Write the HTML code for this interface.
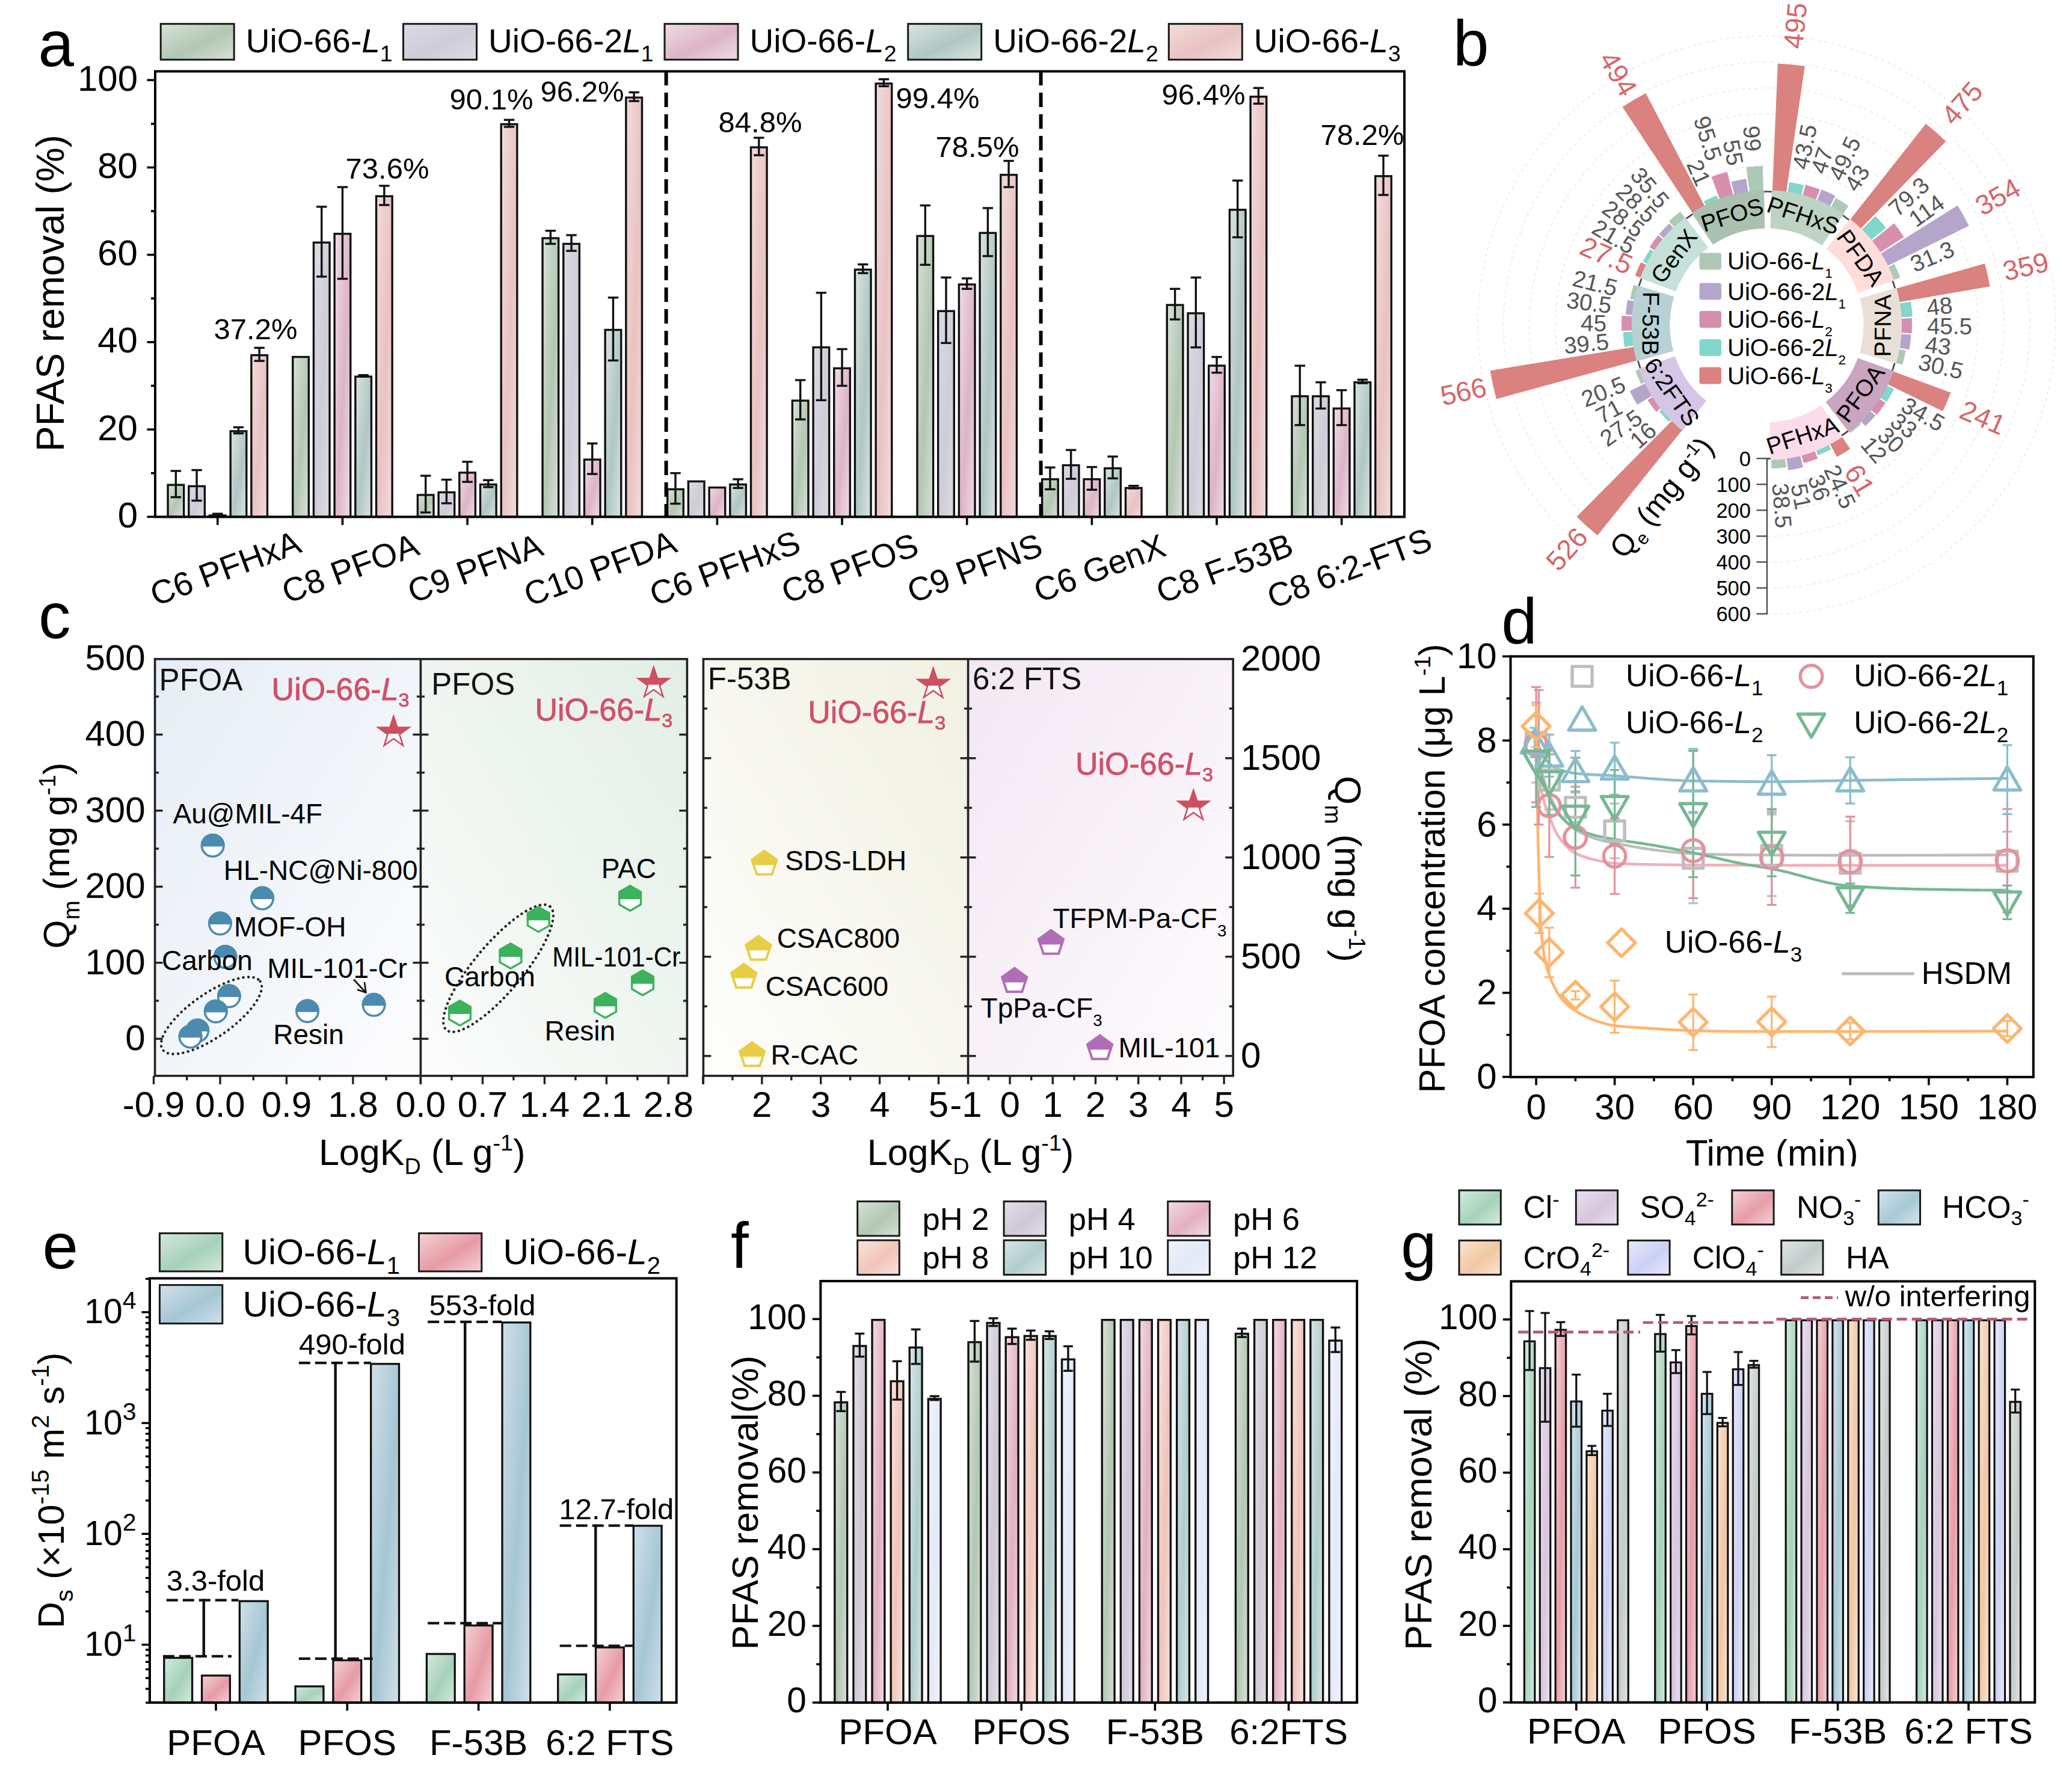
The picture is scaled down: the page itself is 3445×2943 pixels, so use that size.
<!DOCTYPE html>
<html lang="en"><head><meta charset="utf-8"><title>Figure</title>
<style>html,body{margin:0;padding:0;background:#fff}svg{display:block}text{white-space:pre}</style></head>
<body>
<svg width="3445" height="2943" viewBox="0 0 3445 2943" font-family='"Liberation Sans", sans-serif'>
<defs>
<linearGradient id="aL1" x1="0" y1="0" x2="1" y2="1"><stop offset="0.02" stop-color="#D6E1D6"/><stop offset="0.55" stop-color="#B2C7B2"/><stop offset="0.98" stop-color="#D6E1D6"/></linearGradient>
<linearGradient id="a2L1" x1="0" y1="0" x2="1" y2="1"><stop offset="0.02" stop-color="#DCDAE2"/><stop offset="0.55" stop-color="#CECCD7"/><stop offset="0.98" stop-color="#DCDAE2"/></linearGradient>
<linearGradient id="aL2" x1="0" y1="0" x2="1" y2="1"><stop offset="0.02" stop-color="#EEDBE4"/><stop offset="0.55" stop-color="#DDB4C7"/><stop offset="0.98" stop-color="#EEDBE4"/></linearGradient>
<linearGradient id="a2L2" x1="0" y1="0" x2="1" y2="1"><stop offset="0.02" stop-color="#D8E3E0"/><stop offset="0.55" stop-color="#AFC7C4"/><stop offset="0.98" stop-color="#D8E3E0"/></linearGradient>
<linearGradient id="aL3" x1="0" y1="0" x2="1" y2="1"><stop offset="0.02" stop-color="#F1DCDA"/><stop offset="0.55" stop-color="#E9C2C1"/><stop offset="0.98" stop-color="#F1DCDA"/></linearGradient>
<linearGradient id="cbg1" x1="0" y1="0" x2="1" y2="1"><stop offset="0" stop-color="#E5EDF5"/><stop offset="1" stop-color="#FDFDFE"/></linearGradient>
<linearGradient id="cbg2" x1="1" y1="0" x2="0" y2="1"><stop offset="0" stop-color="#E2EEE5"/><stop offset="1" stop-color="#FCFDFC"/></linearGradient>
<linearGradient id="cbg3" x1="1" y1="0" x2="0" y2="1"><stop offset="0" stop-color="#F1F0E2"/><stop offset="1" stop-color="#FEFEFC"/></linearGradient>
<linearGradient id="cbg4" x1="0" y1="0" x2="1" y2="1"><stop offset="0" stop-color="#F2E7F2"/><stop offset="1" stop-color="#FEFCFE"/></linearGradient>
<clipPath id="cm1"><rect x="328.7" y="1380.9" width="50" height="26.5"/></clipPath>
<clipPath id="cm2"><rect x="411.1" y="1468.6" width="50" height="26.5"/></clipPath>
<clipPath id="cm3"><rect x="340.9" y="1510.6" width="50" height="26.5"/></clipPath>
<clipPath id="cm4"><rect x="349.6" y="1566" width="50" height="26.5"/></clipPath>
<clipPath id="cm5"><rect x="355.9" y="1631.3" width="50" height="26.5"/></clipPath>
<clipPath id="cm6"><rect x="333.8" y="1656.7" width="50" height="26.5"/></clipPath>
<clipPath id="cm7"><rect x="303.3" y="1688.5" width="50" height="26.5"/></clipPath>
<clipPath id="cm8"><rect x="291.6" y="1698.7" width="50" height="26.5"/></clipPath>
<clipPath id="cm9"><rect x="486.1" y="1656.2" width="50" height="26.5"/></clipPath>
<clipPath id="cm10"><rect x="596.6" y="1645.8" width="50" height="26.5"/></clipPath>
<clipPath id="cm11"><rect x="724.5" y="1644.5" width="80" height="41.5"/></clipPath>
<clipPath id="cm12"><rect x="809" y="1549.6" width="80" height="41.5"/></clipPath>
<clipPath id="cm13"><rect x="855.3" y="1488.8" width="80" height="41.5"/></clipPath>
<clipPath id="cm14"><rect x="1007.6" y="1453.6" width="80" height="41.5"/></clipPath>
<clipPath id="cm15"><rect x="1028.5" y="1594.2" width="80" height="41.5"/></clipPath>
<clipPath id="cm16"><rect x="966.5" y="1631.8" width="80" height="41.5"/></clipPath>
<clipPath id="cm17"><rect x="1230.8" y="1396.4" width="80" height="42"/></clipPath>
<clipPath id="cm18"><rect x="1221" y="1538.2" width="80" height="42"/></clipPath>
<clipPath id="cm19"><rect x="1196.7" y="1584.6" width="80" height="42"/></clipPath>
<clipPath id="cm20"><rect x="1210.6" y="1714.9" width="80" height="42"/></clipPath>
<clipPath id="cm21"><rect x="1707.5" y="1528.4" width="80" height="42"/></clipPath>
<clipPath id="cm22"><rect x="1646.7" y="1591.5" width="80" height="42"/></clipPath>
<clipPath id="cm23"><rect x="1788.6" y="1703.3" width="80" height="42"/></clipPath>
<clipPath id="cm24"><rect x="614.4" y="1178" width="80" height="42"/></clipPath>
<clipPath id="cm25"><rect x="1046.8" y="1096.5" width="80" height="42"/></clipPath>
<clipPath id="cm26"><rect x="1511.7" y="1098.1" width="80" height="42"/></clipPath>
<clipPath id="cm27"><rect x="1944.3" y="1300.8" width="80" height="42"/></clipPath>
<linearGradient id="eL1" x1="0" y1="0" x2="1" y2="1"><stop offset="0.02" stop-color="#D2E8DB"/><stop offset="0.55" stop-color="#A6D1B9"/><stop offset="0.98" stop-color="#D2E8DB"/></linearGradient>
<linearGradient id="eL2" x1="0" y1="0" x2="1" y2="1"><stop offset="0.02" stop-color="#F4CFD3"/><stop offset="0.55" stop-color="#E79BA4"/><stop offset="0.98" stop-color="#F4CFD3"/></linearGradient>
<linearGradient id="eL3" x1="0" y1="0" x2="1" y2="1"><stop offset="0.02" stop-color="#CFDFE8"/><stop offset="0.55" stop-color="#A5C6D4"/><stop offset="0.98" stop-color="#CFDFE8"/></linearGradient>
<linearGradient id="f2" x1="0" y1="0" x2="1" y2="1"><stop offset="0.02" stop-color="#D6E1D6"/><stop offset="0.55" stop-color="#B2C7B2"/><stop offset="0.98" stop-color="#D6E1D6"/></linearGradient>
<linearGradient id="f4" x1="0" y1="0" x2="1" y2="1"><stop offset="0.02" stop-color="#E2DEE6"/><stop offset="0.55" stop-color="#CFC8D6"/><stop offset="0.98" stop-color="#E2DEE6"/></linearGradient>
<linearGradient id="f6" x1="0" y1="0" x2="1" y2="1"><stop offset="0.02" stop-color="#F1DAE2"/><stop offset="0.55" stop-color="#E3AFC2"/><stop offset="0.98" stop-color="#F1DAE2"/></linearGradient>
<linearGradient id="f8" x1="0" y1="0" x2="1" y2="1"><stop offset="0.02" stop-color="#F8E2DC"/><stop offset="0.55" stop-color="#F0C4B9"/><stop offset="0.98" stop-color="#F8E2DC"/></linearGradient>
<linearGradient id="f10" x1="0" y1="0" x2="1" y2="1"><stop offset="0.02" stop-color="#D8E5E5"/><stop offset="0.55" stop-color="#B0CDCD"/><stop offset="0.98" stop-color="#D8E5E5"/></linearGradient>
<linearGradient id="f12" x1="0" y1="0" x2="1" y2="1"><stop offset="0.02" stop-color="#EEF2FB"/><stop offset="0.55" stop-color="#E2E9F8"/><stop offset="0.98" stop-color="#EEF2FB"/></linearGradient>
<linearGradient id="gCl" x1="0" y1="0" x2="1" y2="1"><stop offset="0.02" stop-color="#D2EADD"/><stop offset="0.55" stop-color="#A6D3BA"/><stop offset="0.98" stop-color="#D2EADD"/></linearGradient>
<linearGradient id="gSO" x1="0" y1="0" x2="1" y2="1"><stop offset="0.02" stop-color="#EADFEE"/><stop offset="0.55" stop-color="#D7C6DE"/><stop offset="0.98" stop-color="#EADFEE"/></linearGradient>
<linearGradient id="gNO" x1="0" y1="0" x2="1" y2="1"><stop offset="0.02" stop-color="#F5D0D5"/><stop offset="0.55" stop-color="#E79DA8"/><stop offset="0.98" stop-color="#F5D0D5"/></linearGradient>
<linearGradient id="gHC" x1="0" y1="0" x2="1" y2="1"><stop offset="0.02" stop-color="#D3E4EB"/><stop offset="0.55" stop-color="#A6C9D6"/><stop offset="0.98" stop-color="#D3E4EB"/></linearGradient>
<linearGradient id="gCr" x1="0" y1="0" x2="1" y2="1"><stop offset="0.02" stop-color="#FAE4D1"/><stop offset="0.55" stop-color="#F1C7A2"/><stop offset="0.98" stop-color="#FAE4D1"/></linearGradient>
<linearGradient id="gClO" x1="0" y1="0" x2="1" y2="1"><stop offset="0.02" stop-color="#E6E9FB"/><stop offset="0.55" stop-color="#CBD1F4"/><stop offset="0.98" stop-color="#E6E9FB"/></linearGradient>
<linearGradient id="gHA" x1="0" y1="0" x2="1" y2="1"><stop offset="0.02" stop-color="#DFE4E3"/><stop offset="0.55" stop-color="#C3CBCA"/><stop offset="0.98" stop-color="#DFE4E3"/></linearGradient>
</defs>
<text x="63.5" y="109.5" font-size="107" text-anchor="start" fill="#000" >a</text>
<rect x="267.2" y="39.7" width="122" height="59.5" fill="url(#aL1)" stroke="#1a1a1a" stroke-width="3" />
<text x="408.7" y="87.3" font-size="55" text-anchor="start" fill="#000" >UiO-66-<tspan font-style="italic">L</tspan><tspan font-size="37.4" baseline-shift="-14.85">1</tspan></text>
<rect x="670.5" y="39.7" width="122" height="59.5" fill="url(#a2L1)" stroke="#1a1a1a" stroke-width="3" />
<text x="812" y="87.3" font-size="55" text-anchor="start" fill="#000" >UiO-66-2<tspan font-style="italic">L</tspan><tspan font-size="37.4" baseline-shift="-14.85">1</tspan></text>
<rect x="1105" y="39.7" width="122" height="59.5" fill="url(#aL2)" stroke="#1a1a1a" stroke-width="3" />
<text x="1246.5" y="87.3" font-size="55" text-anchor="start" fill="#000" >UiO-66-<tspan font-style="italic">L</tspan><tspan font-size="37.4" baseline-shift="-14.85">2</tspan></text>
<rect x="1509.7" y="39.7" width="122" height="59.5" fill="url(#a2L2)" stroke="#1a1a1a" stroke-width="3" />
<text x="1651.2" y="87.3" font-size="55" text-anchor="start" fill="#000" >UiO-66-2<tspan font-style="italic">L</tspan><tspan font-size="37.4" baseline-shift="-14.85">2</tspan></text>
<rect x="1943.3" y="39.7" width="122" height="59.5" fill="url(#aL3)" stroke="#1a1a1a" stroke-width="3" />
<text x="2084.8" y="87.3" font-size="55" text-anchor="start" fill="#000" >UiO-66-<tspan font-style="italic">L</tspan><tspan font-size="37.4" baseline-shift="-14.85">3</tspan></text>
<g><rect x="279.1" y="806.24" width="26.6" height="53.16" fill="url(#aL1)" stroke="#111" stroke-width="3.4" /><line x1="292.4" y1="783.06" x2="292.4" y2="826.63" stroke="#111" stroke-width="3.4" /><line x1="283.7" y1="783.06" x2="301.1" y2="783.06" stroke="#111" stroke-width="3.4" /><line x1="283.7" y1="826.63" x2="301.1" y2="826.63" stroke="#111" stroke-width="3.4" /><rect x="313.8" y="808.42" width="26.6" height="50.98" fill="url(#a2L1)" stroke="#111" stroke-width="3.4" /><line x1="327.1" y1="781.61" x2="327.1" y2="832.43" stroke="#111" stroke-width="3.4" /><line x1="318.4" y1="781.61" x2="335.8" y2="781.61" stroke="#111" stroke-width="3.4" /><line x1="318.4" y1="832.43" x2="335.8" y2="832.43" stroke="#111" stroke-width="3.4" /><rect x="348.5" y="857.07" width="26.6" height="2.33" fill="url(#aL2)" stroke="#111" stroke-width="3.4" /><line x1="361.8" y1="854.22" x2="361.8" y2="857.12" stroke="#111" stroke-width="3.4" /><line x1="353.1" y1="854.22" x2="370.5" y2="854.22" stroke="#111" stroke-width="3.4" /><line x1="353.1" y1="857.12" x2="370.5" y2="857.12" stroke="#111" stroke-width="3.4" /><rect x="383.2" y="716.93" width="26.6" height="142.47" fill="url(#a2L2)" stroke="#111" stroke-width="3.4" /><line x1="396.5" y1="710.45" x2="396.5" y2="720.61" stroke="#111" stroke-width="3.4" /><line x1="387.8" y1="710.45" x2="405.2" y2="710.45" stroke="#111" stroke-width="3.4" /><line x1="387.8" y1="720.61" x2="405.2" y2="720.61" stroke="#111" stroke-width="3.4" /><rect x="417.9" y="590.59" width="26.6" height="268.81" fill="url(#aL3)" stroke="#111" stroke-width="3.4" /><line x1="431.2" y1="578.3" x2="431.2" y2="600.08" stroke="#111" stroke-width="3.4" /><line x1="422.5" y1="578.3" x2="439.9" y2="578.3" stroke="#111" stroke-width="3.4" /><line x1="422.5" y1="600.08" x2="439.9" y2="600.08" stroke="#111" stroke-width="3.4" /><rect x="486.75" y="593.5" width="26.6" height="265.9" fill="url(#aL1)" stroke="#111" stroke-width="3.4" /><rect x="521.45" y="403.26" width="26.6" height="456.14" fill="url(#a2L1)" stroke="#111" stroke-width="3.4" /><line x1="534.75" y1="343.77" x2="534.75" y2="459.94" stroke="#111" stroke-width="3.4" /><line x1="526.05" y1="343.77" x2="543.45" y2="343.77" stroke="#111" stroke-width="3.4" /><line x1="526.05" y1="459.94" x2="543.45" y2="459.94" stroke="#111" stroke-width="3.4" /><rect x="556.15" y="388.73" width="26.6" height="470.67" fill="url(#aL2)" stroke="#111" stroke-width="3.4" /><line x1="569.45" y1="311.09" x2="569.45" y2="463.58" stroke="#111" stroke-width="3.4" /><line x1="560.75" y1="311.09" x2="578.15" y2="311.09" stroke="#111" stroke-width="3.4" /><line x1="560.75" y1="463.58" x2="578.15" y2="463.58" stroke="#111" stroke-width="3.4" /><rect x="590.85" y="626.17" width="26.6" height="233.23" fill="url(#a2L2)" stroke="#111" stroke-width="3.4" /><line x1="604.15" y1="623.68" x2="604.15" y2="625.86" stroke="#111" stroke-width="3.4" /><line x1="595.45" y1="623.68" x2="612.85" y2="623.68" stroke="#111" stroke-width="3.4" /><line x1="595.45" y1="625.86" x2="612.85" y2="625.86" stroke="#111" stroke-width="3.4" /><rect x="625.55" y="326.29" width="26.6" height="533.11" fill="url(#aL3)" stroke="#111" stroke-width="3.4" /><line x1="638.85" y1="308.92" x2="638.85" y2="340.86" stroke="#111" stroke-width="3.4" /><line x1="630.15" y1="308.92" x2="647.55" y2="308.92" stroke="#111" stroke-width="3.4" /><line x1="630.15" y1="340.86" x2="647.55" y2="340.86" stroke="#111" stroke-width="3.4" /><rect x="694.4" y="822.94" width="26.6" height="36.46" fill="url(#aL1)" stroke="#111" stroke-width="3.4" /><line x1="707.7" y1="791.05" x2="707.7" y2="852.04" stroke="#111" stroke-width="3.4" /><line x1="699" y1="791.05" x2="716.4" y2="791.05" stroke="#111" stroke-width="3.4" /><line x1="699" y1="852.04" x2="716.4" y2="852.04" stroke="#111" stroke-width="3.4" /><rect x="729.1" y="818.59" width="26.6" height="40.81" fill="url(#a2L1)" stroke="#111" stroke-width="3.4" /><line x1="742.4" y1="797.58" x2="742.4" y2="836.79" stroke="#111" stroke-width="3.4" /><line x1="733.7" y1="797.58" x2="751.1" y2="797.58" stroke="#111" stroke-width="3.4" /><line x1="733.7" y1="836.79" x2="751.1" y2="836.79" stroke="#111" stroke-width="3.4" /><rect x="763.8" y="785.91" width="26.6" height="73.49" fill="url(#aL2)" stroke="#111" stroke-width="3.4" /><line x1="777.1" y1="767.81" x2="777.1" y2="801.21" stroke="#111" stroke-width="3.4" /><line x1="768.4" y1="767.81" x2="785.8" y2="767.81" stroke="#111" stroke-width="3.4" /><line x1="768.4" y1="801.21" x2="785.8" y2="801.21" stroke="#111" stroke-width="3.4" /><rect x="798.5" y="805.52" width="26.6" height="53.88" fill="url(#a2L2)" stroke="#111" stroke-width="3.4" /><line x1="811.8" y1="798.31" x2="811.8" y2="809.93" stroke="#111" stroke-width="3.4" /><line x1="803.1" y1="798.31" x2="820.5" y2="798.31" stroke="#111" stroke-width="3.4" /><line x1="803.1" y1="809.93" x2="820.5" y2="809.93" stroke="#111" stroke-width="3.4" /><rect x="833.2" y="206.48" width="26.6" height="652.92" fill="url(#aL3)" stroke="#111" stroke-width="3.4" /><line x1="846.5" y1="199.28" x2="846.5" y2="210.89" stroke="#111" stroke-width="3.4" /><line x1="837.8" y1="199.28" x2="855.2" y2="199.28" stroke="#111" stroke-width="3.4" /><line x1="837.8" y1="210.89" x2="855.2" y2="210.89" stroke="#111" stroke-width="3.4" /><rect x="902.05" y="396" width="26.6" height="463.4" fill="url(#aL1)" stroke="#111" stroke-width="3.4" /><line x1="915.35" y1="383.7" x2="915.35" y2="405.49" stroke="#111" stroke-width="3.4" /><line x1="906.65" y1="383.7" x2="924.05" y2="383.7" stroke="#111" stroke-width="3.4" /><line x1="906.65" y1="405.49" x2="924.05" y2="405.49" stroke="#111" stroke-width="3.4" /><rect x="936.75" y="405.44" width="26.6" height="453.96" fill="url(#a2L1)" stroke="#111" stroke-width="3.4" /><line x1="950.05" y1="390.97" x2="950.05" y2="417.11" stroke="#111" stroke-width="3.4" /><line x1="941.35" y1="390.97" x2="958.75" y2="390.97" stroke="#111" stroke-width="3.4" /><line x1="941.35" y1="417.11" x2="958.75" y2="417.11" stroke="#111" stroke-width="3.4" /><rect x="971.45" y="764.13" width="26.6" height="95.27" fill="url(#aL2)" stroke="#111" stroke-width="3.4" /><line x1="984.75" y1="737.32" x2="984.75" y2="788.14" stroke="#111" stroke-width="3.4" /><line x1="976.05" y1="737.32" x2="993.45" y2="737.32" stroke="#111" stroke-width="3.4" /><line x1="976.05" y1="788.14" x2="993.45" y2="788.14" stroke="#111" stroke-width="3.4" /><rect x="1006.15" y="548.48" width="26.6" height="310.92" fill="url(#a2L2)" stroke="#111" stroke-width="3.4" /><line x1="1019.45" y1="494.8" x2="1019.45" y2="599.36" stroke="#111" stroke-width="3.4" /><line x1="1010.75" y1="494.8" x2="1028.15" y2="494.8" stroke="#111" stroke-width="3.4" /><line x1="1010.75" y1="599.36" x2="1028.15" y2="599.36" stroke="#111" stroke-width="3.4" /><rect x="1040.85" y="162.19" width="26.6" height="697.21" fill="url(#aL3)" stroke="#111" stroke-width="3.4" /><line x1="1054.15" y1="153.53" x2="1054.15" y2="168.05" stroke="#111" stroke-width="3.4" /><line x1="1045.45" y1="153.53" x2="1062.85" y2="153.53" stroke="#111" stroke-width="3.4" /><line x1="1045.45" y1="168.05" x2="1062.85" y2="168.05" stroke="#111" stroke-width="3.4" /><rect x="1109.7" y="813.5" width="26.6" height="45.9" fill="url(#aL1)" stroke="#111" stroke-width="3.4" /><line x1="1123" y1="786.69" x2="1123" y2="837.52" stroke="#111" stroke-width="3.4" /><line x1="1114.3" y1="786.69" x2="1131.7" y2="786.69" stroke="#111" stroke-width="3.4" /><line x1="1114.3" y1="837.52" x2="1131.7" y2="837.52" stroke="#111" stroke-width="3.4" /><rect x="1144.4" y="800.43" width="26.6" height="58.97" fill="url(#a2L1)" stroke="#111" stroke-width="3.4" /><rect x="1179.1" y="810.6" width="26.6" height="48.8" fill="url(#aL2)" stroke="#111" stroke-width="3.4" /><rect x="1213.8" y="805.52" width="26.6" height="53.88" fill="url(#a2L2)" stroke="#111" stroke-width="3.4" /><line x1="1227.1" y1="796.86" x2="1227.1" y2="811.38" stroke="#111" stroke-width="3.4" /><line x1="1218.4" y1="796.86" x2="1235.8" y2="796.86" stroke="#111" stroke-width="3.4" /><line x1="1218.4" y1="811.38" x2="1235.8" y2="811.38" stroke="#111" stroke-width="3.4" /><rect x="1248.5" y="244.97" width="26.6" height="614.43" fill="url(#aL3)" stroke="#111" stroke-width="3.4" /><line x1="1261.8" y1="229.05" x2="1261.8" y2="258.09" stroke="#111" stroke-width="3.4" /><line x1="1253.1" y1="229.05" x2="1270.5" y2="229.05" stroke="#111" stroke-width="3.4" /><line x1="1253.1" y1="258.09" x2="1270.5" y2="258.09" stroke="#111" stroke-width="3.4" /><rect x="1317.35" y="666.11" width="26.6" height="193.29" fill="url(#aL1)" stroke="#111" stroke-width="3.4" /><line x1="1330.65" y1="632.03" x2="1330.65" y2="697.38" stroke="#111" stroke-width="3.4" /><line x1="1321.95" y1="632.03" x2="1339.35" y2="632.03" stroke="#111" stroke-width="3.4" /><line x1="1321.95" y1="697.38" x2="1339.35" y2="697.38" stroke="#111" stroke-width="3.4" /><rect x="1352.05" y="577.52" width="26.6" height="281.88" fill="url(#a2L1)" stroke="#111" stroke-width="3.4" /><line x1="1365.35" y1="486.81" x2="1365.35" y2="665.43" stroke="#111" stroke-width="3.4" /><line x1="1356.65" y1="486.81" x2="1374.05" y2="486.81" stroke="#111" stroke-width="3.4" /><line x1="1356.65" y1="665.43" x2="1374.05" y2="665.43" stroke="#111" stroke-width="3.4" /><rect x="1386.75" y="612.37" width="26.6" height="247.03" fill="url(#aL2)" stroke="#111" stroke-width="3.4" /><line x1="1400.05" y1="580.48" x2="1400.05" y2="641.47" stroke="#111" stroke-width="3.4" /><line x1="1391.35" y1="580.48" x2="1408.75" y2="580.48" stroke="#111" stroke-width="3.4" /><line x1="1391.35" y1="641.47" x2="1408.75" y2="641.47" stroke="#111" stroke-width="3.4" /><rect x="1421.45" y="448.28" width="26.6" height="411.12" fill="url(#a2L2)" stroke="#111" stroke-width="3.4" /><line x1="1434.75" y1="439.61" x2="1434.75" y2="454.14" stroke="#111" stroke-width="3.4" /><line x1="1426.05" y1="439.61" x2="1443.45" y2="439.61" stroke="#111" stroke-width="3.4" /><line x1="1426.05" y1="454.14" x2="1443.45" y2="454.14" stroke="#111" stroke-width="3.4" /><rect x="1456.15" y="138.96" width="26.6" height="720.44" fill="url(#aL3)" stroke="#111" stroke-width="3.4" /><line x1="1469.45" y1="131.75" x2="1469.45" y2="143.37" stroke="#111" stroke-width="3.4" /><line x1="1460.75" y1="131.75" x2="1478.15" y2="131.75" stroke="#111" stroke-width="3.4" /><line x1="1460.75" y1="143.37" x2="1478.15" y2="143.37" stroke="#111" stroke-width="3.4" /><rect x="1525" y="392.37" width="26.6" height="467.03" fill="url(#aL1)" stroke="#111" stroke-width="3.4" /><line x1="1538.3" y1="341.59" x2="1538.3" y2="440.34" stroke="#111" stroke-width="3.4" /><line x1="1529.6" y1="341.59" x2="1547" y2="341.59" stroke="#111" stroke-width="3.4" /><line x1="1529.6" y1="440.34" x2="1547" y2="440.34" stroke="#111" stroke-width="3.4" /><rect x="1559.7" y="517.25" width="26.6" height="342.15" fill="url(#a2L1)" stroke="#111" stroke-width="3.4" /><line x1="1573" y1="461.4" x2="1573" y2="570.31" stroke="#111" stroke-width="3.4" /><line x1="1564.3" y1="461.4" x2="1581.7" y2="461.4" stroke="#111" stroke-width="3.4" /><line x1="1564.3" y1="570.31" x2="1581.7" y2="570.31" stroke="#111" stroke-width="3.4" /><rect x="1594.4" y="472.96" width="26.6" height="386.44" fill="url(#aL2)" stroke="#111" stroke-width="3.4" /><line x1="1607.7" y1="462.85" x2="1607.7" y2="480.28" stroke="#111" stroke-width="3.4" /><line x1="1599" y1="462.85" x2="1616.4" y2="462.85" stroke="#111" stroke-width="3.4" /><line x1="1599" y1="480.28" x2="1616.4" y2="480.28" stroke="#111" stroke-width="3.4" /><rect x="1629.1" y="387.28" width="26.6" height="472.12" fill="url(#a2L2)" stroke="#111" stroke-width="3.4" /><line x1="1642.4" y1="345.95" x2="1642.4" y2="425.82" stroke="#111" stroke-width="3.4" /><line x1="1633.7" y1="345.95" x2="1651.1" y2="345.95" stroke="#111" stroke-width="3.4" /><line x1="1633.7" y1="425.82" x2="1651.1" y2="425.82" stroke="#111" stroke-width="3.4" /><rect x="1663.8" y="290.71" width="26.6" height="568.69" fill="url(#aL3)" stroke="#111" stroke-width="3.4" /><line x1="1677.1" y1="267.53" x2="1677.1" y2="311.09" stroke="#111" stroke-width="3.4" /><line x1="1668.4" y1="267.53" x2="1685.8" y2="267.53" stroke="#111" stroke-width="3.4" /><line x1="1668.4" y1="311.09" x2="1685.8" y2="311.09" stroke="#111" stroke-width="3.4" /><rect x="1732.65" y="796.8" width="26.6" height="62.6" fill="url(#aL1)" stroke="#111" stroke-width="3.4" /><line x1="1745.95" y1="777.25" x2="1745.95" y2="813.56" stroke="#111" stroke-width="3.4" /><line x1="1737.25" y1="777.25" x2="1754.65" y2="777.25" stroke="#111" stroke-width="3.4" /><line x1="1737.25" y1="813.56" x2="1754.65" y2="813.56" stroke="#111" stroke-width="3.4" /><rect x="1767.35" y="773.57" width="26.6" height="85.83" fill="url(#a2L1)" stroke="#111" stroke-width="3.4" /><line x1="1780.65" y1="748.21" x2="1780.65" y2="796.13" stroke="#111" stroke-width="3.4" /><line x1="1771.95" y1="748.21" x2="1789.35" y2="748.21" stroke="#111" stroke-width="3.4" /><line x1="1771.95" y1="796.13" x2="1789.35" y2="796.13" stroke="#111" stroke-width="3.4" /><rect x="1802.05" y="796.8" width="26.6" height="62.6" fill="url(#aL2)" stroke="#111" stroke-width="3.4" /><line x1="1815.35" y1="776.52" x2="1815.35" y2="814.28" stroke="#111" stroke-width="3.4" /><line x1="1806.65" y1="776.52" x2="1824.05" y2="776.52" stroke="#111" stroke-width="3.4" /><line x1="1806.65" y1="814.28" x2="1824.05" y2="814.28" stroke="#111" stroke-width="3.4" /><rect x="1836.75" y="778.65" width="26.6" height="80.75" fill="url(#a2L2)" stroke="#111" stroke-width="3.4" /><line x1="1850.05" y1="759.1" x2="1850.05" y2="795.4" stroke="#111" stroke-width="3.4" /><line x1="1841.35" y1="759.1" x2="1858.75" y2="759.1" stroke="#111" stroke-width="3.4" /><line x1="1841.35" y1="795.4" x2="1858.75" y2="795.4" stroke="#111" stroke-width="3.4" /><rect x="1871.45" y="811.33" width="26.6" height="48.07" fill="url(#aL3)" stroke="#111" stroke-width="3.4" /><line x1="1884.75" y1="807.75" x2="1884.75" y2="812.1" stroke="#111" stroke-width="3.4" /><line x1="1876.05" y1="807.75" x2="1893.45" y2="807.75" stroke="#111" stroke-width="3.4" /><line x1="1876.05" y1="812.1" x2="1893.45" y2="812.1" stroke="#111" stroke-width="3.4" /><rect x="1940.3" y="507.09" width="26.6" height="352.31" fill="url(#aL1)" stroke="#111" stroke-width="3.4" /><line x1="1953.6" y1="480.28" x2="1953.6" y2="531.1" stroke="#111" stroke-width="3.4" /><line x1="1944.9" y1="480.28" x2="1962.3" y2="480.28" stroke="#111" stroke-width="3.4" /><line x1="1944.9" y1="531.1" x2="1962.3" y2="531.1" stroke="#111" stroke-width="3.4" /><rect x="1975" y="520.89" width="26.6" height="338.51" fill="url(#a2L1)" stroke="#111" stroke-width="3.4" /><line x1="1988.3" y1="461.4" x2="1988.3" y2="577.57" stroke="#111" stroke-width="3.4" /><line x1="1979.6" y1="461.4" x2="1997" y2="461.4" stroke="#111" stroke-width="3.4" /><line x1="1979.6" y1="577.57" x2="1997" y2="577.57" stroke="#111" stroke-width="3.4" /><rect x="2009.7" y="608.02" width="26.6" height="251.38" fill="url(#aL2)" stroke="#111" stroke-width="3.4" /><line x1="2023" y1="593.55" x2="2023" y2="619.69" stroke="#111" stroke-width="3.4" /><line x1="2014.3" y1="593.55" x2="2031.7" y2="593.55" stroke="#111" stroke-width="3.4" /><line x1="2014.3" y1="619.69" x2="2031.7" y2="619.69" stroke="#111" stroke-width="3.4" /><rect x="2044.4" y="348.8" width="26.6" height="510.6" fill="url(#a2L2)" stroke="#111" stroke-width="3.4" /><line x1="2057.7" y1="300.2" x2="2057.7" y2="394.6" stroke="#111" stroke-width="3.4" /><line x1="2049" y1="300.2" x2="2066.4" y2="300.2" stroke="#111" stroke-width="3.4" /><line x1="2049" y1="394.6" x2="2066.4" y2="394.6" stroke="#111" stroke-width="3.4" /><rect x="2079.1" y="160.74" width="26.6" height="698.66" fill="url(#aL3)" stroke="#111" stroke-width="3.4" /><line x1="2092.4" y1="146.27" x2="2092.4" y2="172.41" stroke="#111" stroke-width="3.4" /><line x1="2083.7" y1="146.27" x2="2101.1" y2="146.27" stroke="#111" stroke-width="3.4" /><line x1="2083.7" y1="172.41" x2="2101.1" y2="172.41" stroke="#111" stroke-width="3.4" /><rect x="2147.95" y="658.84" width="26.6" height="200.56" fill="url(#aL1)" stroke="#111" stroke-width="3.4" /><line x1="2161.25" y1="608.07" x2="2161.25" y2="706.82" stroke="#111" stroke-width="3.4" /><line x1="2152.55" y1="608.07" x2="2169.95" y2="608.07" stroke="#111" stroke-width="3.4" /><line x1="2152.55" y1="706.82" x2="2169.95" y2="706.82" stroke="#111" stroke-width="3.4" /><rect x="2182.65" y="658.84" width="26.6" height="200.56" fill="url(#a2L1)" stroke="#111" stroke-width="3.4" /><line x1="2195.95" y1="635.66" x2="2195.95" y2="679.23" stroke="#111" stroke-width="3.4" /><line x1="2187.25" y1="635.66" x2="2204.65" y2="635.66" stroke="#111" stroke-width="3.4" /><line x1="2187.25" y1="679.23" x2="2204.65" y2="679.23" stroke="#111" stroke-width="3.4" /><rect x="2217.35" y="679.17" width="26.6" height="180.22" fill="url(#aL2)" stroke="#111" stroke-width="3.4" /><line x1="2230.65" y1="648.73" x2="2230.65" y2="706.82" stroke="#111" stroke-width="3.4" /><line x1="2221.95" y1="648.73" x2="2239.35" y2="648.73" stroke="#111" stroke-width="3.4" /><line x1="2221.95" y1="706.82" x2="2239.35" y2="706.82" stroke="#111" stroke-width="3.4" /><rect x="2252.05" y="635.61" width="26.6" height="223.79" fill="url(#a2L2)" stroke="#111" stroke-width="3.4" /><line x1="2265.35" y1="631.3" x2="2265.35" y2="637.11" stroke="#111" stroke-width="3.4" /><line x1="2256.65" y1="631.3" x2="2274.05" y2="631.3" stroke="#111" stroke-width="3.4" /><line x1="2256.65" y1="637.11" x2="2274.05" y2="637.11" stroke="#111" stroke-width="3.4" /><rect x="2286.75" y="292.89" width="26.6" height="566.51" fill="url(#aL3)" stroke="#111" stroke-width="3.4" /><line x1="2300.05" y1="258.82" x2="2300.05" y2="324.16" stroke="#111" stroke-width="3.4" /><line x1="2291.35" y1="258.82" x2="2308.75" y2="258.82" stroke="#111" stroke-width="3.4" /><line x1="2291.35" y1="324.16" x2="2308.75" y2="324.16" stroke="#111" stroke-width="3.4" /></g>
<line x1="1107.6" y1="118.6" x2="1107.6" y2="859.4" stroke="#000" stroke-width="6" stroke-dasharray="24 12" stroke-dashoffset="0.5"/>
<line x1="1730.6" y1="118.6" x2="1730.6" y2="859.4" stroke="#000" stroke-width="6" stroke-dasharray="24 12" stroke-dashoffset="0.5"/>
<rect x="258" y="118.6" width="2077" height="740.8" fill="none" stroke="#000" stroke-width="4" />
<line x1="244.5" y1="859.3" x2="258" y2="859.3" stroke="#000" stroke-width="3.6" />
<text x="229" y="876.8" font-size="60" text-anchor="end" fill="#000" >0</text>
<line x1="251" y1="786.69" x2="258" y2="786.69" stroke="#000" stroke-width="3.6" />
<line x1="244.5" y1="714.08" x2="258" y2="714.08" stroke="#000" stroke-width="3.6" />
<text x="229" y="731.58" font-size="60" text-anchor="end" fill="#000" >20</text>
<line x1="251" y1="641.47" x2="258" y2="641.47" stroke="#000" stroke-width="3.6" />
<line x1="244.5" y1="568.86" x2="258" y2="568.86" stroke="#000" stroke-width="3.6" />
<text x="229" y="586.36" font-size="60" text-anchor="end" fill="#000" >40</text>
<line x1="251" y1="496.25" x2="258" y2="496.25" stroke="#000" stroke-width="3.6" />
<line x1="244.5" y1="423.64" x2="258" y2="423.64" stroke="#000" stroke-width="3.6" />
<text x="229" y="441.14" font-size="60" text-anchor="end" fill="#000" >60</text>
<line x1="251" y1="351.03" x2="258" y2="351.03" stroke="#000" stroke-width="3.6" />
<line x1="244.5" y1="278.42" x2="258" y2="278.42" stroke="#000" stroke-width="3.6" />
<text x="229" y="295.92" font-size="60" text-anchor="end" fill="#000" >80</text>
<line x1="251" y1="205.81" x2="258" y2="205.81" stroke="#000" stroke-width="3.6" />
<line x1="244.5" y1="133.2" x2="258" y2="133.2" stroke="#000" stroke-width="3.6" />
<text x="229" y="150.7" font-size="60" text-anchor="end" fill="#000" >100</text>
<line x1="361.8" y1="859.4" x2="361.8" y2="872.9" stroke="#000" stroke-width="3.6" />
<text x="381.3" y="962.7" font-size="55.4" text-anchor="middle" fill="#000" transform="rotate(-20.4 381.3 962.7)" >C6 PFHxA</text>
<line x1="569.45" y1="859.4" x2="569.45" y2="872.9" stroke="#000" stroke-width="3.6" />
<text x="588.95" y="962.7" font-size="55.4" text-anchor="middle" fill="#000" transform="rotate(-20.4 588.95 962.7)" >C8 PFOA</text>
<line x1="777.1" y1="859.4" x2="777.1" y2="872.9" stroke="#000" stroke-width="3.6" />
<text x="796.6" y="962.7" font-size="55.4" text-anchor="middle" fill="#000" transform="rotate(-20.4 796.6 962.7)" >C9 PFNA</text>
<line x1="984.75" y1="859.4" x2="984.75" y2="872.9" stroke="#000" stroke-width="3.6" />
<text x="1004.25" y="962.7" font-size="55.4" text-anchor="middle" fill="#000" transform="rotate(-20.4 1004.25 962.7)" >C10 PFDA</text>
<line x1="1192.4" y1="859.4" x2="1192.4" y2="872.9" stroke="#000" stroke-width="3.6" />
<text x="1211.9" y="962.7" font-size="55.4" text-anchor="middle" fill="#000" transform="rotate(-20.4 1211.9 962.7)" >C6 PFHxS</text>
<line x1="1400.05" y1="859.4" x2="1400.05" y2="872.9" stroke="#000" stroke-width="3.6" />
<text x="1419.55" y="962.7" font-size="55.4" text-anchor="middle" fill="#000" transform="rotate(-20.4 1419.55 962.7)" >C8 PFOS</text>
<line x1="1607.7" y1="859.4" x2="1607.7" y2="872.9" stroke="#000" stroke-width="3.6" />
<text x="1627.2" y="962.7" font-size="55.4" text-anchor="middle" fill="#000" transform="rotate(-20.4 1627.2 962.7)" >C9 PFNS</text>
<line x1="1815.35" y1="859.4" x2="1815.35" y2="872.9" stroke="#000" stroke-width="3.6" />
<text x="1834.85" y="962.7" font-size="55.4" text-anchor="middle" fill="#000" transform="rotate(-20.4 1834.85 962.7)" >C6 GenX</text>
<line x1="2023" y1="859.4" x2="2023" y2="872.9" stroke="#000" stroke-width="3.6" />
<text x="2042.5" y="962.7" font-size="55.4" text-anchor="middle" fill="#000" transform="rotate(-20.4 2042.5 962.7)" >C8 F-53B</text>
<line x1="2230.65" y1="859.4" x2="2230.65" y2="872.9" stroke="#000" stroke-width="3.6" />
<text x="2250.15" y="962.7" font-size="55.4" text-anchor="middle" fill="#000" transform="rotate(-20.4 2250.15 962.7)" >C8 6:2-FTS</text>
<text x="106" y="487.4" font-size="64.1" text-anchor="middle" fill="#000" transform="rotate(-90 106 487.4)" >PFAS removal (%)</text>
<text x="425" y="563.5" font-size="49" text-anchor="middle" fill="#000" >37.2%</text>
<text x="644" y="296.5" font-size="49" text-anchor="middle" fill="#000" >73.6%</text>
<text x="817" y="181.5" font-size="49" text-anchor="middle" fill="#000" >90.1%</text>
<text x="968" y="168.5" font-size="49" text-anchor="middle" fill="#000" >96.2%</text>
<text x="1264" y="219.5" font-size="49" text-anchor="middle" fill="#000" >84.8%</text>
<text x="1559" y="179.5" font-size="49" text-anchor="middle" fill="#000" >99.4%</text>
<text x="1625" y="260.5" font-size="49" text-anchor="middle" fill="#000" >78.5%</text>
<text x="2001" y="173.5" font-size="49" text-anchor="middle" fill="#000" >96.4%</text>
<text x="2265" y="240.5" font-size="49" text-anchor="middle" fill="#000" >78.2%</text>
<text x="2416" y="109" font-size="107" text-anchor="start" fill="#000" >b</text>
<g><path d="M2937.4 805.7A265.1 265.1 0 1 0 2772.37 748.07" fill="none" stroke="#e2e2e2" stroke-width="1.2" stroke-dasharray="5 6"/><path d="M2937.4 848.8A308.2 308.2 0 1 0 2745.54 781.8" fill="none" stroke="#e2e2e2" stroke-width="1.2" stroke-dasharray="5 6"/><path d="M2937.4 891.9A351.3 351.3 0 1 0 2718.71 815.53" fill="none" stroke="#e2e2e2" stroke-width="1.2" stroke-dasharray="5 6"/><path d="M2937.4 935A394.4 394.4 0 1 0 2691.88 849.26" fill="none" stroke="#e2e2e2" stroke-width="1.2" stroke-dasharray="5 6"/><path d="M2937.4 978.1A437.5 437.5 0 1 0 2665.05 882.99" fill="none" stroke="#e2e2e2" stroke-width="1.2" stroke-dasharray="5 6"/><path d="M2937.4 1021.2A480.6 480.6 0 1 0 2638.22 916.72" fill="none" stroke="#e2e2e2" stroke-width="1.2" stroke-dasharray="5 6"/><path d="M2937.4 762.6A222 222 0 1 0 2797.69 713.13" fill="none" stroke="#444" stroke-width="2.6"/><path d="M2944.81 761.48L2945.4 779.06A238.59 238.59 0 0 0 2970.07 776.95L2967.66 759.52A221 221 0 0 1 2944.81 761.48Z" fill="#ADC9B5"/><path d="M2969.87 759.2L2973.24 781.93A243.98 243.98 0 0 0 2998.07 776.92L2992.35 754.66A221 221 0 0 1 2969.87 759.2Z" fill="#B5A5CB"/><path d="M2994.51 754.09L2998.77 770.05A237.52 237.52 0 0 0 3022.23 762.45L3016.33 747.02A221 221 0 0 1 2994.51 754.09Z" fill="#D78FAE"/><path d="M3018.4 746.22L3022.64 756.97A232.56 232.56 0 0 0 3044.61 746.97L3039.28 736.71A221 221 0 0 1 3018.4 746.22Z" fill="#82D6CB"/><path d="M3041.25 735.68L3054.08 759.77A248.29 248.29 0 0 0 3076.17 746.49L3060.92 723.86A221 221 0 0 1 3041.25 735.68Z" fill="#DA827F"/><path d="M3072.91 715.18L3076.7 720.05A227.17 227.17 0 0 0 3094.55 704.64L3090.28 700.19A221 221 0 0 1 3072.91 715.18Z" fill="#ADC9B5"/><path d="M3091.88 698.64L3101.62 708.6A234.93 234.93 0 0 0 3118.15 690.67L3107.43 681.77A221 221 0 0 1 3091.88 698.64Z" fill="#B5A5CB"/><path d="M3108.85 680.05L3120.65 689.66A236.22 236.22 0 0 0 3135.12 669.86L3122.38 661.53A221 221 0 0 1 3108.85 680.05Z" fill="#D78FAE"/><path d="M3123.59 659.66L3136.96 668.21A236.87 236.87 0 0 0 3149.11 646.84L3134.93 639.72A221 221 0 0 1 3123.59 659.66Z" fill="#82D6CB"/><path d="M3135.91 637.72L3230.12 683.81A325.87 325.87 0 0 0 3243.38 652.7L3144.91 616.62A221 221 0 0 1 3135.91 637.72Z" fill="#DA827F"/><path d="M3149.54 602.55L3163.12 606.52A235.15 235.15 0 0 0 3168.73 582.76L3154.82 580.23A221 221 0 0 1 3149.54 602.55Z" fill="#ADC9B5"/><path d="M3155.21 578.03L3174.46 581.34A240.53 240.53 0 0 0 3177.4 556.55L3157.91 555.26A221 221 0 0 1 3155.21 578.03Z" fill="#B5A5CB"/><path d="M3158.05 553.03L3178.63 554.19A241.61 241.61 0 0 0 3178.74 529.11L3158.15 530.09A221 221 0 0 1 3158.05 553.03Z" fill="#D78FAE"/><path d="M3158.03 527.87L3179.69 526.62A242.69 242.69 0 0 0 3176.93 501.58L3155.52 505.07A221 221 0 0 1 3158.03 527.87Z" fill="#82D6CB"/><path d="M3155.16 502.87L3308.6 476.29A376.73 376.73 0 0 0 3299.93 438.15L3150.07 480.5A221 221 0 0 1 3155.16 502.87Z" fill="#DA827F"/><path d="M3145.57 466.39L3159.22 461.53A235.49 235.49 0 0 0 3149.83 438.96L3136.75 445.21A221 221 0 0 1 3145.57 466.39Z" fill="#ADC9B5"/><path d="M3135.78 443.21L3273.64 375.53A374.57 374.57 0 0 0 3254.72 341.56L3124.62 423.17A221 221 0 0 1 3135.78 443.21Z" fill="#B5A5CB"/><path d="M3123.43 421.29L3165.63 394.22A271.13 271.13 0 0 0 3149.22 371.35L3110.06 402.65A221 221 0 0 1 3123.43 421.29Z" fill="#D78FAE"/><path d="M3108.66 400.91L3135.92 378.68A256.18 256.18 0 0 0 3118.06 358.97L3093.25 383.91A221 221 0 0 1 3108.66 400.91Z" fill="#82D6CB"/><path d="M3091.67 382.35L3235.27 235.04A426.73 426.73 0 0 0 3201.99 205.81L3074.43 367.21A221 221 0 0 1 3091.67 382.35Z" fill="#DA827F"/><path d="M3062.51 358.42L3073.57 342.32A240.53 240.53 0 0 0 3052.28 329.27L3042.95 346.44A221 221 0 0 1 3062.51 358.42Z" fill="#ADC9B5"/><path d="M3040.99 345.38L3051.46 325.65A243.33 243.33 0 0 0 3028.56 314.99L3020.2 335.7A221 221 0 0 1 3040.99 345.38Z" fill="#B5A5CB"/><path d="M3018.13 334.87L3025.89 315.08A242.26 242.26 0 0 0 3002.04 307.13L2996.37 327.61A221 221 0 0 1 3018.13 334.87Z" fill="#D78FAE"/><path d="M2994.22 327.03L2999.3 307.94A240.75 240.75 0 0 0 2974.84 302.78L2971.77 322.29A221 221 0 0 1 2994.22 327.03Z" fill="#82D6CB"/><path d="M2969.57 321.95L3000.77 109.89A435.35 435.35 0 0 0 2955.79 105.64L2946.73 319.8A221 221 0 0 1 2969.57 321.95Z" fill="#DA827F"/><path d="M2931.92 319.67L2930.84 276.01A264.67 264.67 0 0 0 2903.45 278.12L2909.05 321.43A221 221 0 0 1 2931.92 319.67Z" fill="#ADC9B5"/><path d="M2906.84 321.72L2903.43 297.26A245.7 245.7 0 0 0 2878.38 302.09L2884.32 326.07A221 221 0 0 1 2906.84 321.72Z" fill="#B5A5CB"/><path d="M2882.16 326.62L2871.62 285.79A263.16 263.16 0 0 0 2845.56 293.98L2860.28 333.49A221 221 0 0 1 2882.16 326.62Z" fill="#D78FAE"/><path d="M2858.19 334.28L2854.59 324.9A231.05 231.05 0 0 0 2832.68 334.64L2837.23 343.6A221 221 0 0 1 2858.19 334.28Z" fill="#82D6CB"/><path d="M2835.25 344.62L2736.38 154.93A434.91 434.91 0 0 0 2697.48 177.85L2815.49 356.27A221 221 0 0 1 2835.25 344.62Z" fill="#DA827F"/><path d="M2803.41 364.85L2793.53 351.89A237.3 237.3 0 0 0 2774.74 367.82L2785.92 379.68A221 221 0 0 1 2803.41 364.85Z" fill="#ADC9B5"/><path d="M2784.3 381.22L2775.1 371.64A234.28 234.28 0 0 0 2758.46 389.37L2768.61 397.95A221 221 0 0 1 2784.3 381.22Z" fill="#B5A5CB"/><path d="M2767.18 399.66L2756.95 391.18A234.28 234.28 0 0 0 2742.43 410.69L2753.48 418.06A221 221 0 0 1 2767.18 399.66Z" fill="#D78FAE"/><path d="M2752.26 419.92L2743.66 414.31A231.27 231.27 0 0 0 2731.61 435.08L2740.75 439.76A221 221 0 0 1 2752.26 419.92Z" fill="#82D6CB"/><path d="M2739.74 441.75L2728.25 436A233.85 233.85 0 0 0 2718.53 458.24L2730.56 462.77A221 221 0 0 1 2739.74 441.75Z" fill="#DA827F"/><path d="M2725.81 476.8L2715.98 473.84A231.27 231.27 0 0 0 2710.25 497.15L2720.34 499.08A221 221 0 0 1 2725.81 476.8Z" fill="#ADC9B5"/><path d="M2719.93 501.27L2706.01 498.75A235.15 235.15 0 0 0 2702.92 522.96L2717.02 524.02A221 221 0 0 1 2719.93 501.27Z" fill="#B5A5CB"/><path d="M2716.87 526.24L2696.51 524.92A241.4 241.4 0 0 0 2696.19 549.97L2716.57 549.18A221 221 0 0 1 2716.87 526.24Z" fill="#D78FAE"/><path d="M2716.66 551.4L2698.66 552.29A239.02 239.02 0 0 0 2701.16 576.97L2718.97 574.23A221 221 0 0 1 2716.66 551.4Z" fill="#82D6CB"/><path d="M2719.32 576.43L2477.62 616.14A465.95 465.95 0 0 0 2487.92 663.39L2724.21 598.84A221 221 0 0 1 2719.32 576.43Z" fill="#DA827F"/><path d="M2728.59 612.99L2719.3 616.21A230.84 230.84 0 0 0 2728.31 638.41L2737.22 634.24A221 221 0 0 1 2728.59 612.99Z" fill="#ADC9B5"/><path d="M2738.17 636.26L2709.69 649.94A252.6 252.6 0 0 0 2722.25 672.95L2749.16 656.39A221 221 0 0 1 2738.17 636.26Z" fill="#B5A5CB"/><path d="M2750.34 658.28L2739.46 665.13A233.85 233.85 0 0 0 2753.44 684.98L2763.55 677.04A221 221 0 0 1 2750.34 658.28Z" fill="#D78FAE"/><path d="M2764.93 678.79L2758.77 683.72A228.9 228.9 0 0 0 2774.57 701.47L2780.18 695.92A221 221 0 0 1 2764.93 678.79Z" fill="#82D6CB"/><path d="M2781.76 697.5L2621.39 859.15A448.71 448.71 0 0 0 2656.11 890.19L2798.86 712.78A221 221 0 0 1 2781.76 697.5Z" fill="#DA827F"/><text x="2959.89" y="803.23" font-size="38.5" fill="#555" text-anchor="start" transform="rotate(85.1 2959.89 803.23)" dy="0.355em">38.5</text><text x="2990.67" y="804.25" font-size="38.5" fill="#555" text-anchor="start" transform="rotate(78.58 2990.67 804.25)" dy="0.355em">51</text><text x="3018.3" y="790.34" font-size="38.5" fill="#555" text-anchor="start" transform="rotate(72.05 3018.3 790.34)" dy="0.355em">36</text><text x="3044.12" y="775.01" font-size="38.5" fill="#555" text-anchor="start" transform="rotate(65.52 3044.12 775.01)" dy="0.355em">24.5</text><text x="3078.95" y="776.13" font-size="46" fill="#D4676A" text-anchor="start" transform="rotate(59 3078.95 776.13)" dy="0.355em">61</text><text x="3102.16" y="731.51" font-size="38.5" fill="#555" text-anchor="start" transform="rotate(49.2 3102.16 731.51)" dy="0.355em">12</text><text x="3128.5" y="716.8" font-size="38.5" fill="#555" text-anchor="start" transform="rotate(42.68 3128.5 716.8)" dy="0.355em">30</text><text x="3148.33" y="694.7" font-size="38.5" fill="#555" text-anchor="start" transform="rotate(36.15 3148.33 694.7)" dy="0.355em">33</text><text x="3165.04" y="670.04" font-size="38.5" fill="#555" text-anchor="start" transform="rotate(29.62 3165.04 670.04)" dy="0.355em">34.5</text><text x="3261.53" y="678.82" font-size="46" fill="#D4676A" text-anchor="start" transform="rotate(23.1 3261.53 678.82)" dy="0.355em">241</text><text x="3190.56" y="600.47" font-size="38.5" fill="#555" text-anchor="start" transform="rotate(13.3 3190.56 600.47)" dy="0.355em">30.5</text><text x="3201.08" y="571.94" font-size="38.5" fill="#555" text-anchor="start" transform="rotate(6.78 3201.08 571.94)" dy="0.355em">43</text><text x="3204.01" y="541.76" font-size="38.5" fill="#555" text-anchor="start" transform="rotate(0.25 3204.01 541.76)" dy="0.355em">45.5</text><text x="3203.48" y="511.33" font-size="38.5" fill="#555" text-anchor="start" transform="rotate(-6.28 3203.48 511.33)" dy="0.355em">48</text><text x="3330.6" y="451.23" font-size="46" fill="#D4676A" text-anchor="start" transform="rotate(-12.8 3330.6 451.23)" dy="0.355em">359</text><text x="3177.9" y="440.51" font-size="38.5" fill="#555" text-anchor="start" transform="rotate(-22.6 3177.9 440.51)" dy="0.355em">31.3</text><text x="3287.77" y="345.4" font-size="46" fill="#D4676A" text-anchor="start" transform="rotate(-29.12 3287.77 345.4)" dy="0.355em">354</text><text x="3178.04" y="368" font-size="38.5" fill="#555" text-anchor="start" transform="rotate(-35.65 3178.04 368)" dy="0.355em">114</text><text x="3145.77" y="351.81" font-size="38.5" fill="#555" text-anchor="start" transform="rotate(-42.18 3145.77 351.81)" dy="0.355em">79.3</text><text x="3236.5" y="200.08" font-size="46" fill="#D4676A" text-anchor="start" transform="rotate(-48.7 3236.5 200.08)" dy="0.355em">475</text><text x="3076.16" y="314.21" font-size="38.5" fill="#555" text-anchor="start" transform="rotate(-58.5 3076.16 314.21)" dy="0.355em">43</text><text x="3050.71" y="297.36" font-size="38.5" fill="#555" text-anchor="start" transform="rotate(-65.02 3050.71 297.36)" dy="0.355em">49.5</text><text x="3021.98" y="287.08" font-size="38.5" fill="#555" text-anchor="start" transform="rotate(-71.55 3021.98 287.08)" dy="0.355em">47</text><text x="2992.3" y="280.58" font-size="38.5" fill="#555" text-anchor="start" transform="rotate(-78.08 2992.3 280.58)" dy="0.355em">43.5</text><text x="2980.83" y="80.8" font-size="46" fill="#D4676A" text-anchor="start" transform="rotate(-84.6 2980.83 80.8)" dy="0.355em">495</text><text x="2915.2" y="251.78" font-size="38.5" fill="#555" text-anchor="end" transform="rotate(85.6 2915.2 251.78)" dy="0.355em">99</text><text x="2886.11" y="274.8" font-size="38.5" fill="#555" text-anchor="end" transform="rotate(79.08 2886.11 274.8)" dy="0.355em">55</text><text x="2850.99" y="265.7" font-size="38.5" fill="#555" text-anchor="end" transform="rotate(72.55 2850.99 265.7)" dy="0.355em">95.5</text><text x="2833.35" y="306.64" font-size="38.5" fill="#555" text-anchor="end" transform="rotate(66.02 2833.35 306.64)" dy="0.355em">21</text><text x="2710.54" y="155.54" font-size="46" fill="#D4676A" text-anchor="end" transform="rotate(59.5 2710.54 155.54)" dy="0.355em">494</text><text x="2767.76" y="340.54" font-size="38.5" fill="#555" text-anchor="end" transform="rotate(49.7 2767.76 340.54)" dy="0.355em">35.5</text><text x="2748.32" y="363.18" font-size="38.5" fill="#555" text-anchor="end" transform="rotate(43.18 2748.32 363.18)" dy="0.355em">28.5</text><text x="2729.38" y="385.83" font-size="38.5" fill="#555" text-anchor="end" transform="rotate(36.65 2729.38 385.83)" dy="0.355em">28.5</text><text x="2715.74" y="411.99" font-size="38.5" fill="#555" text-anchor="end" transform="rotate(30.12 2715.74 411.99)" dy="0.355em">21.5</text><text x="2712.1" y="442.19" font-size="46" fill="#D4676A" text-anchor="end" transform="rotate(23.6 2712.1 442.19)" dy="0.355em">27.5</text><text x="2688.54" y="479.45" font-size="38.5" fill="#555" text-anchor="end" transform="rotate(13.8 2688.54 479.45)" dy="0.355em">21.5</text><text x="2679.35" y="507.65" font-size="38.5" fill="#555" text-anchor="end" transform="rotate(7.28 2679.35 507.65)" dy="0.355em">30.5</text><text x="2671.03" y="537.11" font-size="38.5" fill="#555" text-anchor="end" transform="rotate(0.75 2671.03 537.11)" dy="0.355em">45</text><text x="2674.72" y="567.18" font-size="38.5" fill="#555" text-anchor="end" transform="rotate(-5.78 2674.72 567.18)" dy="0.355em">39.5</text><text x="2470.43" y="642.45" font-size="46" fill="#D4676A" text-anchor="end" transform="rotate(-12.3 2470.43 642.45)" dy="0.355em">566</text><text x="2700.35" y="636.83" font-size="38.5" fill="#555" text-anchor="end" transform="rotate(-22.1 2700.35 636.83)" dy="0.355em">20.5</text><text x="2693.72" y="673.58" font-size="38.5" fill="#555" text-anchor="end" transform="rotate(-28.62 2693.72 673.58)" dy="0.355em">71</text><text x="2725.75" y="689.63" font-size="38.5" fill="#555" text-anchor="end" transform="rotate(-35.15 2725.75 689.63)" dy="0.355em">27.5</text><text x="2747.76" y="709.42" font-size="38.5" fill="#555" text-anchor="end" transform="rotate(-41.68 2747.76 709.42)" dy="0.355em">16</text><text x="2630.35" y="884.07" font-size="46" fill="#D4676A" text-anchor="end" transform="rotate(-48.2 2630.35 884.07)" dy="0.355em">526</text><path d="M2941.98 701.53L2943.79 765.01A224.5 224.5 0 0 0 3063.81 726.13L3028.05 673.65A161 161 0 0 1 2941.98 701.53Z" fill="#FCDCEB"/><text x="2996.73" y="723.73" font-size="39" text-anchor="middle" transform="rotate(-17.95 2996.73 723.73)" dy="0.355em">PFHxA</text><path d="M3035.48 668.28L3074.17 718.63A224.5 224.5 0 0 0 3148.59 616.76L3088.85 595.22A161 161 0 0 1 3035.48 668.28Z" fill="#C9A5C1"/><text x="3092.84" y="654.16" font-size="39" text-anchor="middle" transform="rotate(-53.85 3092.84 654.16)" dy="0.355em">PFOA</text><path d="M3091.72 586.51L3152.58 604.62A224.5 224.5 0 0 0 3153.13 478.46L3092.11 496.04A161 161 0 0 1 3091.72 586.51Z" fill="#EADFD6"/><text x="3129.9" y="541.44" font-size="39" text-anchor="middle" transform="rotate(-89.75 3129.9 541.44)" dy="0.355em">PFNA</text><path d="M3089.32 487.3L3149.24 466.28A224.5 224.5 0 0 0 3075.71 363.77L3036.59 413.79A161 161 0 0 1 3089.32 487.3Z" fill="#FFDDD8"/><text x="3093.82" y="428.4" font-size="39" text-anchor="middle" transform="rotate(54.35 3093.82 428.4)" dy="0.355em">PFDA</text><path d="M3029.21 408.34L3065.42 356.18A224.5 224.5 0 0 0 2945.75 316.26L2943.39 379.71A161 161 0 0 1 3029.21 408.34Z" fill="#BDD4C2"/><text x="2998.32" y="357.99" font-size="39" text-anchor="middle" transform="rotate(18.45 2998.32 357.99)" dy="0.355em">PFHxS</text><path d="M2934.22 379.63L2932.97 316.14A224.5 224.5 0 0 0 2812.62 353.97L2847.91 406.76A161 161 0 0 1 2934.22 379.63Z" fill="#AAC1B0"/><text x="2879.67" y="356.96" font-size="39" text-anchor="middle" transform="rotate(-17.45 2879.67 356.96)" dy="0.355em">PFOS</text><path d="M2840.44 412.07L2802.19 361.38A224.5 224.5 0 0 0 2726.89 462.6L2786.43 484.66A161 161 0 0 1 2840.44 412.07Z" fill="#C5E1D9"/><text x="2782.96" y="425.69" font-size="39" text-anchor="middle" transform="rotate(-53.35 2782.96 425.69)" dy="0.355em">GenX</text><path d="M2783.49 493.34L2722.79 474.71A224.5 224.5 0 0 0 2721.14 600.85L2782.31 583.81A161 161 0 0 1 2783.49 493.34Z" fill="#B7D1D5"/><text x="2744.92" y="538.08" font-size="39" text-anchor="middle" transform="rotate(-269.25 2744.92 538.08)" dy="0.355em">F-53B</text><path d="M2785.02 592.57L2724.92 613.07A224.5 224.5 0 0 0 2797.55 716.22L2837.11 666.54A161 161 0 0 1 2785.02 592.57Z" fill="#D4C6E4"/><text x="2780" y="651.43" font-size="39" text-anchor="middle" transform="rotate(-305.15 2780 651.43)" dy="0.355em">6:2FTS</text></g>
<rect x="2825.5" y="420.4" width="36.5" height="28" fill="#ADC9B5" stroke="none" stroke-width="0" rx="4"/>
<text x="2872" y="448.4" font-size="40" text-anchor="start" fill="#000" >UiO-66-<tspan font-style="italic">L</tspan><tspan font-size="22.4" baseline-shift="-14.4">1</tspan></text>
<rect x="2825.5" y="470.6" width="36.5" height="28" fill="#B5A5CB" stroke="none" stroke-width="0" rx="4"/>
<text x="2872" y="498.6" font-size="40" text-anchor="start" fill="#000" >UiO-66-2<tspan font-style="italic">L</tspan><tspan font-size="22.4" baseline-shift="-14.4">1</tspan></text>
<rect x="2825.5" y="517" width="36.5" height="28" fill="#D78FAE" stroke="none" stroke-width="0" rx="4"/>
<text x="2872" y="545" font-size="40" text-anchor="start" fill="#000" >UiO-66-<tspan font-style="italic">L</tspan><tspan font-size="22.4" baseline-shift="-14.4">2</tspan></text>
<rect x="2825.5" y="564" width="36.5" height="28" fill="#82D6CB" stroke="none" stroke-width="0" rx="4"/>
<text x="2872" y="592" font-size="40" text-anchor="start" fill="#000" >UiO-66-2<tspan font-style="italic">L</tspan><tspan font-size="22.4" baseline-shift="-14.4">2</tspan></text>
<rect x="2825.5" y="610.6" width="36.5" height="28" fill="#DA827F" stroke="none" stroke-width="0" rx="4"/>
<text x="2872" y="638.6" font-size="40" text-anchor="start" fill="#000" >UiO-66-<tspan font-style="italic">L</tspan><tspan font-size="22.4" baseline-shift="-14.4">3</tspan></text>
<line x1="2937.9" y1="762.3" x2="2937.9" y2="1021.4" stroke="#444" stroke-width="2.2" />
<line x1="2920.4" y1="762.3" x2="2937.9" y2="762.3" stroke="#444" stroke-width="2.2" />
<text x="2911" y="774.5" font-size="34.5" text-anchor="end" fill="#000" >0</text>
<line x1="2920.4" y1="805.35" x2="2937.9" y2="805.35" stroke="#444" stroke-width="2.2" />
<text x="2911" y="817.55" font-size="34.5" text-anchor="end" fill="#000" >100</text>
<line x1="2920.4" y1="848.4" x2="2937.9" y2="848.4" stroke="#444" stroke-width="2.2" />
<text x="2911" y="860.6" font-size="34.5" text-anchor="end" fill="#000" >200</text>
<line x1="2920.4" y1="891.45" x2="2937.9" y2="891.45" stroke="#444" stroke-width="2.2" />
<text x="2911" y="903.65" font-size="34.5" text-anchor="end" fill="#000" >300</text>
<line x1="2920.4" y1="934.5" x2="2937.9" y2="934.5" stroke="#444" stroke-width="2.2" />
<text x="2911" y="946.7" font-size="34.5" text-anchor="end" fill="#000" >400</text>
<line x1="2920.4" y1="977.55" x2="2937.9" y2="977.55" stroke="#444" stroke-width="2.2" />
<text x="2911" y="989.75" font-size="34.5" text-anchor="end" fill="#000" >500</text>
<line x1="2920.4" y1="1020.6" x2="2937.9" y2="1020.6" stroke="#444" stroke-width="2.2" />
<text x="2911" y="1032.8" font-size="34.5" text-anchor="end" fill="#000" >600</text>
<text x="2776" y="838" font-size="50" text-anchor="middle" fill="#000" transform="rotate(-51 2776 838)" >Q<tspan font-size="30" baseline-shift="-11">e</tspan> (mg g<tspan font-size="30" baseline-shift="18">-1</tspan>)</text>
<text x="64" y="1061" font-size="107" text-anchor="start" fill="#000" >c</text>
<rect x="257.6" y="1095.8" width="441.8" height="693" fill="url(#cbg1)" stroke="none" stroke-width="0" />
<rect x="699.4" y="1095.8" width="443" height="693" fill="url(#cbg2)" stroke="none" stroke-width="0" />
<rect x="1169.4" y="1095.8" width="440.2" height="693" fill="url(#cbg3)" stroke="none" stroke-width="0" />
<rect x="1609.6" y="1095.8" width="440.6" height="693" fill="url(#cbg4)" stroke="none" stroke-width="0" />
<g><line x1="257.6" y1="1727.2" x2="270.6" y2="1727.2" stroke="#222" stroke-width="3.4" /><line x1="686.4" y1="1727.2" x2="712.4" y2="1727.2" stroke="#222" stroke-width="3.4" /><line x1="1129.4" y1="1727.2" x2="1142.4" y2="1727.2" stroke="#222" stroke-width="3.4" /><line x1="257.6" y1="1663.98" x2="264.1" y2="1663.98" stroke="#222" stroke-width="3.4" /><line x1="692.9" y1="1663.98" x2="705.9" y2="1663.98" stroke="#222" stroke-width="3.4" /><line x1="1135.9" y1="1663.98" x2="1142.4" y2="1663.98" stroke="#222" stroke-width="3.4" /><line x1="257.6" y1="1600.75" x2="270.6" y2="1600.75" stroke="#222" stroke-width="3.4" /><line x1="686.4" y1="1600.75" x2="712.4" y2="1600.75" stroke="#222" stroke-width="3.4" /><line x1="1129.4" y1="1600.75" x2="1142.4" y2="1600.75" stroke="#222" stroke-width="3.4" /><line x1="257.6" y1="1537.53" x2="264.1" y2="1537.53" stroke="#222" stroke-width="3.4" /><line x1="692.9" y1="1537.53" x2="705.9" y2="1537.53" stroke="#222" stroke-width="3.4" /><line x1="1135.9" y1="1537.53" x2="1142.4" y2="1537.53" stroke="#222" stroke-width="3.4" /><line x1="257.6" y1="1474.3" x2="270.6" y2="1474.3" stroke="#222" stroke-width="3.4" /><line x1="686.4" y1="1474.3" x2="712.4" y2="1474.3" stroke="#222" stroke-width="3.4" /><line x1="1129.4" y1="1474.3" x2="1142.4" y2="1474.3" stroke="#222" stroke-width="3.4" /><line x1="257.6" y1="1411.08" x2="264.1" y2="1411.08" stroke="#222" stroke-width="3.4" /><line x1="692.9" y1="1411.08" x2="705.9" y2="1411.08" stroke="#222" stroke-width="3.4" /><line x1="1135.9" y1="1411.08" x2="1142.4" y2="1411.08" stroke="#222" stroke-width="3.4" /><line x1="257.6" y1="1347.85" x2="270.6" y2="1347.85" stroke="#222" stroke-width="3.4" /><line x1="686.4" y1="1347.85" x2="712.4" y2="1347.85" stroke="#222" stroke-width="3.4" /><line x1="1129.4" y1="1347.85" x2="1142.4" y2="1347.85" stroke="#222" stroke-width="3.4" /><line x1="257.6" y1="1284.62" x2="264.1" y2="1284.62" stroke="#222" stroke-width="3.4" /><line x1="692.9" y1="1284.62" x2="705.9" y2="1284.62" stroke="#222" stroke-width="3.4" /><line x1="1135.9" y1="1284.62" x2="1142.4" y2="1284.62" stroke="#222" stroke-width="3.4" /><line x1="257.6" y1="1221.4" x2="270.6" y2="1221.4" stroke="#222" stroke-width="3.4" /><line x1="686.4" y1="1221.4" x2="712.4" y2="1221.4" stroke="#222" stroke-width="3.4" /><line x1="1129.4" y1="1221.4" x2="1142.4" y2="1221.4" stroke="#222" stroke-width="3.4" /><line x1="257.6" y1="1158.18" x2="264.1" y2="1158.18" stroke="#222" stroke-width="3.4" /><line x1="692.9" y1="1158.18" x2="705.9" y2="1158.18" stroke="#222" stroke-width="3.4" /><line x1="1135.9" y1="1158.18" x2="1142.4" y2="1158.18" stroke="#222" stroke-width="3.4" /><line x1="1169.4" y1="1755.8" x2="1182.4" y2="1755.8" stroke="#222" stroke-width="3.4" /><line x1="1596.6" y1="1755.8" x2="1622.6" y2="1755.8" stroke="#222" stroke-width="3.4" /><line x1="2037.2" y1="1755.8" x2="2050.2" y2="1755.8" stroke="#222" stroke-width="3.4" /><line x1="1169.4" y1="1673.27" x2="1175.9" y2="1673.27" stroke="#222" stroke-width="3.4" /><line x1="1603.1" y1="1673.27" x2="1616.1" y2="1673.27" stroke="#222" stroke-width="3.4" /><line x1="2043.7" y1="1673.27" x2="2050.2" y2="1673.27" stroke="#222" stroke-width="3.4" /><line x1="1169.4" y1="1590.75" x2="1182.4" y2="1590.75" stroke="#222" stroke-width="3.4" /><line x1="1596.6" y1="1590.75" x2="1622.6" y2="1590.75" stroke="#222" stroke-width="3.4" /><line x1="2037.2" y1="1590.75" x2="2050.2" y2="1590.75" stroke="#222" stroke-width="3.4" /><line x1="1169.4" y1="1508.22" x2="1175.9" y2="1508.22" stroke="#222" stroke-width="3.4" /><line x1="1603.1" y1="1508.22" x2="1616.1" y2="1508.22" stroke="#222" stroke-width="3.4" /><line x1="2043.7" y1="1508.22" x2="2050.2" y2="1508.22" stroke="#222" stroke-width="3.4" /><line x1="1169.4" y1="1425.7" x2="1182.4" y2="1425.7" stroke="#222" stroke-width="3.4" /><line x1="1596.6" y1="1425.7" x2="1622.6" y2="1425.7" stroke="#222" stroke-width="3.4" /><line x1="2037.2" y1="1425.7" x2="2050.2" y2="1425.7" stroke="#222" stroke-width="3.4" /><line x1="1169.4" y1="1343.17" x2="1175.9" y2="1343.17" stroke="#222" stroke-width="3.4" /><line x1="1603.1" y1="1343.17" x2="1616.1" y2="1343.17" stroke="#222" stroke-width="3.4" /><line x1="2043.7" y1="1343.17" x2="2050.2" y2="1343.17" stroke="#222" stroke-width="3.4" /><line x1="1169.4" y1="1260.65" x2="1182.4" y2="1260.65" stroke="#222" stroke-width="3.4" /><line x1="1596.6" y1="1260.65" x2="1622.6" y2="1260.65" stroke="#222" stroke-width="3.4" /><line x1="2037.2" y1="1260.65" x2="2050.2" y2="1260.65" stroke="#222" stroke-width="3.4" /><line x1="1169.4" y1="1178.12" x2="1175.9" y2="1178.12" stroke="#222" stroke-width="3.4" /><line x1="1603.1" y1="1178.12" x2="1616.1" y2="1178.12" stroke="#222" stroke-width="3.4" /><line x1="2043.7" y1="1178.12" x2="2050.2" y2="1178.12" stroke="#222" stroke-width="3.4" /><text x="241.5" y="1746.1" font-size="60" text-anchor="end" fill="#000" >0</text><text x="241.5" y="1619.65" font-size="60" text-anchor="end" fill="#000" >100</text><text x="241.5" y="1493.2" font-size="60" text-anchor="end" fill="#000" >200</text><text x="241.5" y="1366.75" font-size="60" text-anchor="end" fill="#000" >300</text><text x="241.5" y="1240.3" font-size="60" text-anchor="end" fill="#000" >400</text><text x="241.5" y="1113.85" font-size="60" text-anchor="end" fill="#000" >500</text><text x="2063" y="1774.9" font-size="60" text-anchor="start" fill="#000" >0</text><text x="2063" y="1609.85" font-size="60" text-anchor="start" fill="#000" >500</text><text x="2063" y="1444.8" font-size="60" text-anchor="start" fill="#000" >1000</text><text x="2063" y="1279.75" font-size="60" text-anchor="start" fill="#000" >1500</text><text x="2063" y="1114.7" font-size="60" text-anchor="start" fill="#000" >2000</text><line x1="255.55" y1="1788.8" x2="255.55" y2="1802.8" stroke="#222" stroke-width="3.4" /><line x1="366" y1="1788.8" x2="366" y2="1802.8" stroke="#222" stroke-width="3.4" /><line x1="476.45" y1="1788.8" x2="476.45" y2="1802.8" stroke="#222" stroke-width="3.4" /><line x1="586.9" y1="1788.8" x2="586.9" y2="1802.8" stroke="#222" stroke-width="3.4" /><line x1="310.77" y1="1788.8" x2="310.77" y2="1796.3" stroke="#222" stroke-width="3.4" /><line x1="421.23" y1="1788.8" x2="421.23" y2="1796.3" stroke="#222" stroke-width="3.4" /><line x1="531.67" y1="1788.8" x2="531.67" y2="1796.3" stroke="#222" stroke-width="3.4" /><line x1="642.12" y1="1788.8" x2="642.12" y2="1796.3" stroke="#222" stroke-width="3.4" /><text x="255.55" y="1857" font-size="60" text-anchor="middle" fill="#000" >-0.9</text><text x="366" y="1857" font-size="60" text-anchor="middle" fill="#000" >0.0</text><text x="476.45" y="1857" font-size="60" text-anchor="middle" fill="#000" >0.9</text><text x="586.9" y="1857" font-size="60" text-anchor="middle" fill="#000" >1.8</text><line x1="699.4" y1="1788.8" x2="699.4" y2="1802.8" stroke="#222" stroke-width="3.4" /><line x1="802.4" y1="1788.8" x2="802.4" y2="1802.8" stroke="#222" stroke-width="3.4" /><line x1="905.4" y1="1788.8" x2="905.4" y2="1802.8" stroke="#222" stroke-width="3.4" /><line x1="1008.4" y1="1788.8" x2="1008.4" y2="1802.8" stroke="#222" stroke-width="3.4" /><line x1="1111.4" y1="1788.8" x2="1111.4" y2="1802.8" stroke="#222" stroke-width="3.4" /><line x1="750.9" y1="1788.8" x2="750.9" y2="1796.3" stroke="#222" stroke-width="3.4" /><line x1="853.9" y1="1788.8" x2="853.9" y2="1796.3" stroke="#222" stroke-width="3.4" /><line x1="956.9" y1="1788.8" x2="956.9" y2="1796.3" stroke="#222" stroke-width="3.4" /><line x1="1059.9" y1="1788.8" x2="1059.9" y2="1796.3" stroke="#222" stroke-width="3.4" /><text x="699.4" y="1857" font-size="60" text-anchor="middle" fill="#000" >0.0</text><text x="802.4" y="1857" font-size="60" text-anchor="middle" fill="#000" >0.7</text><text x="905.4" y="1857" font-size="60" text-anchor="middle" fill="#000" >1.4</text><text x="1008.4" y="1857" font-size="60" text-anchor="middle" fill="#000" >2.1</text><text x="1111.4" y="1857" font-size="60" text-anchor="middle" fill="#000" >2.8</text><line x1="1168.9" y1="1788.8" x2="1168.9" y2="1802.8" stroke="#222" stroke-width="3.4" /><line x1="1266.8" y1="1788.8" x2="1266.8" y2="1802.8" stroke="#222" stroke-width="3.4" /><line x1="1364.7" y1="1788.8" x2="1364.7" y2="1802.8" stroke="#222" stroke-width="3.4" /><line x1="1462.6" y1="1788.8" x2="1462.6" y2="1802.8" stroke="#222" stroke-width="3.4" /><line x1="1560.5" y1="1788.8" x2="1560.5" y2="1802.8" stroke="#222" stroke-width="3.4" /><line x1="1217.85" y1="1788.8" x2="1217.85" y2="1796.3" stroke="#222" stroke-width="3.4" /><line x1="1315.75" y1="1788.8" x2="1315.75" y2="1796.3" stroke="#222" stroke-width="3.4" /><line x1="1413.65" y1="1788.8" x2="1413.65" y2="1796.3" stroke="#222" stroke-width="3.4" /><line x1="1511.55" y1="1788.8" x2="1511.55" y2="1796.3" stroke="#222" stroke-width="3.4" /><text x="1266.8" y="1857" font-size="60" text-anchor="middle" fill="#000" >2</text><text x="1364.7" y="1857" font-size="60" text-anchor="middle" fill="#000" >3</text><text x="1462.6" y="1857" font-size="60" text-anchor="middle" fill="#000" >4</text><text x="1560.5" y="1857" font-size="60" text-anchor="middle" fill="#000" >5</text><line x1="1679.1" y1="1788.8" x2="1679.1" y2="1802.8" stroke="#222" stroke-width="3.4" /><line x1="1750.3" y1="1788.8" x2="1750.3" y2="1802.8" stroke="#222" stroke-width="3.4" /><line x1="1821.5" y1="1788.8" x2="1821.5" y2="1802.8" stroke="#222" stroke-width="3.4" /><line x1="1892.7" y1="1788.8" x2="1892.7" y2="1802.8" stroke="#222" stroke-width="3.4" /><line x1="1963.9" y1="1788.8" x2="1963.9" y2="1802.8" stroke="#222" stroke-width="3.4" /><line x1="2035.1" y1="1788.8" x2="2035.1" y2="1802.8" stroke="#222" stroke-width="3.4" /><line x1="1643.5" y1="1788.8" x2="1643.5" y2="1796.3" stroke="#222" stroke-width="3.4" /><line x1="1714.7" y1="1788.8" x2="1714.7" y2="1796.3" stroke="#222" stroke-width="3.4" /><line x1="1785.9" y1="1788.8" x2="1785.9" y2="1796.3" stroke="#222" stroke-width="3.4" /><line x1="1857.1" y1="1788.8" x2="1857.1" y2="1796.3" stroke="#222" stroke-width="3.4" /><line x1="1928.3" y1="1788.8" x2="1928.3" y2="1796.3" stroke="#222" stroke-width="3.4" /><line x1="1999.5" y1="1788.8" x2="1999.5" y2="1796.3" stroke="#222" stroke-width="3.4" /><text x="1679.1" y="1857" font-size="60" text-anchor="middle" fill="#000" >0</text><text x="1750.3" y="1857" font-size="60" text-anchor="middle" fill="#000" >1</text><text x="1821.5" y="1857" font-size="60" text-anchor="middle" fill="#000" >2</text><text x="1892.7" y="1857" font-size="60" text-anchor="middle" fill="#000" >3</text><text x="1963.9" y="1857" font-size="60" text-anchor="middle" fill="#000" >4</text><text x="2035.1" y="1857" font-size="60" text-anchor="middle" fill="#000" >5</text><text x="1606" y="1857" font-size="60" text-anchor="middle" fill="#000" >-1</text></g>
<rect x="257.6" y="1095.8" width="884.8" height="693" fill="none" stroke="#222" stroke-width="3.6" />
<line x1="699.4" y1="1095.8" x2="699.4" y2="1802.8" stroke="#222" stroke-width="3.6" />
<rect x="1169.4" y="1095.8" width="880.8" height="693" fill="none" stroke="#222" stroke-width="3.6" />
<line x1="1609.6" y1="1095.8" x2="1609.6" y2="1802.8" stroke="#222" stroke-width="3.6" />
<line x1="1169.4" y1="1788.8" x2="1169.4" y2="1802.8" stroke="#222" stroke-width="3.4" />
<text x="701.7" y="1937.2" font-size="61" text-anchor="middle" fill="#000" >LogK<tspan font-size="37.82" baseline-shift="-14.64">D</tspan> (L g<tspan font-size="37.82" baseline-shift="24.4">-1</tspan>)</text>
<text x="1613.5" y="1937.2" font-size="61" text-anchor="middle" fill="#000" >LogK<tspan font-size="37.82" baseline-shift="-14.64">D</tspan> (L g<tspan font-size="37.82" baseline-shift="24.4">-1</tspan>)</text>
<text x="114.5" y="1422.5" font-size="61.8" text-anchor="middle" fill="#000" transform="rotate(-90 114.5 1422.5)" >Q<tspan font-size="38.32" baseline-shift="-17.3">m</tspan> (mg g<tspan font-size="38.32" baseline-shift="23.48">-1</tspan>)</text>
<text x="2220" y="1445" font-size="61.8" text-anchor="middle" fill="#000" transform="rotate(90 2220 1445)" >Q<tspan font-size="38.32" baseline-shift="-17.3">m</tspan> (mg g<tspan font-size="38.32" baseline-shift="23.48">-1</tspan>)</text>
<text x="264.62" y="1147.5" font-size="51" text-anchor="start" fill="#111" >PFOA</text>
<text x="717.32" y="1155" font-size="51" text-anchor="start" fill="#111" >PFOS</text>
<text x="1176.82" y="1146" font-size="51" text-anchor="start" fill="#111" >F-53B</text>
<text x="1616.9" y="1146" font-size="51" text-anchor="start" fill="#111" >6:2 FTS</text>
<text x="451.6" y="1164" font-size="52" text-anchor="start" fill="#D0506A" stroke="#D0506A" stroke-width="0.8">UiO-66-<tspan font-style="italic">L</tspan><tspan font-size="32.24" baseline-shift="-11.44">3</tspan></text>
<text x="889.4" y="1198" font-size="52" text-anchor="start" fill="#D0506A" stroke="#D0506A" stroke-width="0.8">UiO-66-<tspan font-style="italic">L</tspan><tspan font-size="32.24" baseline-shift="-11.44">3</tspan></text>
<text x="1343.3" y="1201.5" font-size="52" text-anchor="start" fill="#D0506A" stroke="#D0506A" stroke-width="0.8">UiO-66-<tspan font-style="italic">L</tspan><tspan font-size="32.24" baseline-shift="-11.44">3</tspan></text>
<text x="1788" y="1288.4" font-size="52" text-anchor="start" fill="#D0506A" stroke="#D0506A" stroke-width="0.8">UiO-66-<tspan font-style="italic">L</tspan><tspan font-size="32.24" baseline-shift="-11.44">3</tspan></text>
<ellipse cx="351.5" cy="1688.5" rx="99" ry="36" fill="none" stroke="#222" stroke-width="4.4" stroke-dasharray="0.1 8.4" stroke-linecap="round" transform="rotate(-35 351.5 1688.5)"/>
<ellipse cx="828.5" cy="1610" rx="134" ry="40" fill="none" stroke="#222" stroke-width="4.4" stroke-dasharray="0.1 8.4" stroke-linecap="round" transform="rotate(-50 828.5 1610)"/>
<path d="M588 1628.5L607.5 1649.5M594 1645.5L608.4 1650.4L606 1633" fill="none" stroke="#111" stroke-width="2.6"/>
<g><circle cx="353.7" cy="1405.9" r="18.2" fill="#fff" stroke="#4C8BB0" stroke-width="3.6"/><circle cx="353.7" cy="1405.9" r="18.2" fill="#4C8BB0" stroke="#4C8BB0" stroke-width="3.6" clip-path="url(#cm1)"/><circle cx="436.1" cy="1493.6" r="18.2" fill="#fff" stroke="#4C8BB0" stroke-width="3.6"/><circle cx="436.1" cy="1493.6" r="18.2" fill="#4C8BB0" stroke="#4C8BB0" stroke-width="3.6" clip-path="url(#cm2)"/><circle cx="365.9" cy="1535.6" r="18.2" fill="#fff" stroke="#4C8BB0" stroke-width="3.6"/><circle cx="365.9" cy="1535.6" r="18.2" fill="#4C8BB0" stroke="#4C8BB0" stroke-width="3.6" clip-path="url(#cm3)"/><circle cx="374.6" cy="1591" r="18.2" fill="#fff" stroke="#4C8BB0" stroke-width="3.6"/><circle cx="374.6" cy="1591" r="18.2" fill="#4C8BB0" stroke="#4C8BB0" stroke-width="3.6" clip-path="url(#cm4)"/><circle cx="380.9" cy="1656.3" r="18.2" fill="#fff" stroke="#4C8BB0" stroke-width="3.6"/><circle cx="380.9" cy="1656.3" r="18.2" fill="#4C8BB0" stroke="#4C8BB0" stroke-width="3.6" clip-path="url(#cm5)"/><circle cx="358.8" cy="1681.7" r="18.2" fill="#fff" stroke="#4C8BB0" stroke-width="3.6"/><circle cx="358.8" cy="1681.7" r="18.2" fill="#4C8BB0" stroke="#4C8BB0" stroke-width="3.6" clip-path="url(#cm6)"/><circle cx="328.3" cy="1713.5" r="18.2" fill="#fff" stroke="#4C8BB0" stroke-width="3.6"/><circle cx="328.3" cy="1713.5" r="18.2" fill="#4C8BB0" stroke="#4C8BB0" stroke-width="3.6" clip-path="url(#cm7)"/><circle cx="316.6" cy="1723.7" r="18.2" fill="#fff" stroke="#4C8BB0" stroke-width="3.6"/><circle cx="316.6" cy="1723.7" r="18.2" fill="#4C8BB0" stroke="#4C8BB0" stroke-width="3.6" clip-path="url(#cm8)"/><circle cx="511.1" cy="1681.2" r="18.2" fill="#fff" stroke="#4C8BB0" stroke-width="3.6"/><circle cx="511.1" cy="1681.2" r="18.2" fill="#4C8BB0" stroke="#4C8BB0" stroke-width="3.6" clip-path="url(#cm9)"/><circle cx="621.6" cy="1670.8" r="18.2" fill="#fff" stroke="#4C8BB0" stroke-width="3.6"/><circle cx="621.6" cy="1670.8" r="18.2" fill="#4C8BB0" stroke="#4C8BB0" stroke-width="3.6" clip-path="url(#cm10)"/><path d="M764.5 1663.9L746.66 1674.2L746.66 1694.8L764.5 1705.1L782.34 1694.8L782.34 1674.2Z" fill="#fff" stroke="#3DB25C" stroke-width="3.4"/><path d="M764.5 1663.9L746.66 1674.2L746.66 1694.8L764.5 1705.1L782.34 1694.8L782.34 1674.2Z" fill="#3DB25C" stroke="#3DB25C" stroke-width="3.4" clip-path="url(#cm11)"/><path d="M849 1569L831.16 1579.3L831.16 1599.9L849 1610.2L866.84 1599.9L866.84 1579.3Z" fill="#fff" stroke="#3DB25C" stroke-width="3.4"/><path d="M849 1569L831.16 1579.3L831.16 1599.9L849 1610.2L866.84 1599.9L866.84 1579.3Z" fill="#3DB25C" stroke="#3DB25C" stroke-width="3.4" clip-path="url(#cm12)"/><path d="M895.3 1508.2L877.46 1518.5L877.46 1539.1L895.3 1549.4L913.14 1539.1L913.14 1518.5Z" fill="#fff" stroke="#3DB25C" stroke-width="3.4"/><path d="M895.3 1508.2L877.46 1518.5L877.46 1539.1L895.3 1549.4L913.14 1539.1L913.14 1518.5Z" fill="#3DB25C" stroke="#3DB25C" stroke-width="3.4" clip-path="url(#cm13)"/><path d="M1047.6 1473L1029.76 1483.3L1029.76 1503.9L1047.6 1514.2L1065.44 1503.9L1065.44 1483.3Z" fill="#fff" stroke="#3DB25C" stroke-width="3.4"/><path d="M1047.6 1473L1029.76 1483.3L1029.76 1503.9L1047.6 1514.2L1065.44 1503.9L1065.44 1483.3Z" fill="#3DB25C" stroke="#3DB25C" stroke-width="3.4" clip-path="url(#cm14)"/><path d="M1068.5 1613.6L1050.66 1623.9L1050.66 1644.5L1068.5 1654.8L1086.34 1644.5L1086.34 1623.9Z" fill="#fff" stroke="#3DB25C" stroke-width="3.4"/><path d="M1068.5 1613.6L1050.66 1623.9L1050.66 1644.5L1068.5 1654.8L1086.34 1644.5L1086.34 1623.9Z" fill="#3DB25C" stroke="#3DB25C" stroke-width="3.4" clip-path="url(#cm15)"/><path d="M1006.5 1651.2L988.66 1661.5L988.66 1682.1L1006.5 1692.4L1024.34 1682.1L1024.34 1661.5Z" fill="#fff" stroke="#3DB25C" stroke-width="3.4"/><path d="M1006.5 1651.2L988.66 1661.5L988.66 1682.1L1006.5 1692.4L1024.34 1682.1L1024.34 1661.5Z" fill="#3DB25C" stroke="#3DB25C" stroke-width="3.4" clip-path="url(#cm16)"/><path d="M1270.8 1414.9L1250.35 1429.76L1258.16 1453.79L1283.44 1453.79L1291.25 1429.76Z" fill="#fff" stroke="#E7CE45" stroke-width="4"/><path d="M1270.8 1414.9L1250.35 1429.76L1258.16 1453.79L1283.44 1453.79L1291.25 1429.76Z" fill="#E7CE45" stroke="#E7CE45" stroke-width="4" clip-path="url(#cm17)"/><path d="M1261 1556.7L1240.55 1571.56L1248.36 1595.59L1273.64 1595.59L1281.45 1571.56Z" fill="#fff" stroke="#E7CE45" stroke-width="4"/><path d="M1261 1556.7L1240.55 1571.56L1248.36 1595.59L1273.64 1595.59L1281.45 1571.56Z" fill="#E7CE45" stroke="#E7CE45" stroke-width="4" clip-path="url(#cm18)"/><path d="M1236.7 1603.1L1216.25 1617.96L1224.06 1641.99L1249.34 1641.99L1257.15 1617.96Z" fill="#fff" stroke="#E7CE45" stroke-width="4"/><path d="M1236.7 1603.1L1216.25 1617.96L1224.06 1641.99L1249.34 1641.99L1257.15 1617.96Z" fill="#E7CE45" stroke="#E7CE45" stroke-width="4" clip-path="url(#cm19)"/><path d="M1250.6 1733.4L1230.15 1748.26L1237.96 1772.29L1263.24 1772.29L1271.05 1748.26Z" fill="#fff" stroke="#E7CE45" stroke-width="4"/><path d="M1250.6 1733.4L1230.15 1748.26L1237.96 1772.29L1263.24 1772.29L1271.05 1748.26Z" fill="#E7CE45" stroke="#E7CE45" stroke-width="4" clip-path="url(#cm20)"/><path d="M1747.5 1546.9L1727.05 1561.76L1734.86 1585.79L1760.14 1585.79L1767.95 1561.76Z" fill="#fff" stroke="#B26DB8" stroke-width="4"/><path d="M1747.5 1546.9L1727.05 1561.76L1734.86 1585.79L1760.14 1585.79L1767.95 1561.76Z" fill="#B26DB8" stroke="#B26DB8" stroke-width="4" clip-path="url(#cm21)"/><path d="M1686.7 1610L1666.25 1624.86L1674.06 1648.89L1699.34 1648.89L1707.15 1624.86Z" fill="#fff" stroke="#B26DB8" stroke-width="4"/><path d="M1686.7 1610L1666.25 1624.86L1674.06 1648.89L1699.34 1648.89L1707.15 1624.86Z" fill="#B26DB8" stroke="#B26DB8" stroke-width="4" clip-path="url(#cm22)"/><path d="M1828.6 1721.8L1808.15 1736.66L1815.96 1760.69L1841.24 1760.69L1849.05 1736.66Z" fill="#fff" stroke="#B26DB8" stroke-width="4"/><path d="M1828.6 1721.8L1808.15 1736.66L1815.96 1760.69L1841.24 1760.69L1849.05 1736.66Z" fill="#B26DB8" stroke="#B26DB8" stroke-width="4" clip-path="url(#cm23)"/><path d="M654.4 1191.5L648.35 1209.67L629.2 1209.81L644.6 1221.18L638.82 1239.44L654.4 1228.3L669.98 1239.44L664.2 1221.18L679.6 1209.81L660.45 1209.67Z" fill="#fff" stroke="#CD4F60" stroke-width="2.6"/><path d="M654.4 1191.5L648.35 1209.67L629.2 1209.81L644.6 1221.18L638.82 1239.44L654.4 1228.3L669.98 1239.44L664.2 1221.18L679.6 1209.81L660.45 1209.67Z" fill="#CD4F60" stroke="#CD4F60" stroke-width="2.6" clip-path="url(#cm24)"/><path d="M1086.8 1110L1080.75 1128.17L1061.6 1128.31L1077 1139.68L1071.22 1157.94L1086.8 1146.8L1102.38 1157.94L1096.6 1139.68L1112 1128.31L1092.85 1128.17Z" fill="#fff" stroke="#CD4F60" stroke-width="2.6"/><path d="M1086.8 1110L1080.75 1128.17L1061.6 1128.31L1077 1139.68L1071.22 1157.94L1086.8 1146.8L1102.38 1157.94L1096.6 1139.68L1112 1128.31L1092.85 1128.17Z" fill="#CD4F60" stroke="#CD4F60" stroke-width="2.6" clip-path="url(#cm25)"/><path d="M1551.7 1111.6L1545.65 1129.77L1526.5 1129.91L1541.9 1141.28L1536.12 1159.54L1551.7 1148.4L1567.28 1159.54L1561.5 1141.28L1576.9 1129.91L1557.75 1129.77Z" fill="#fff" stroke="#CD4F60" stroke-width="2.6"/><path d="M1551.7 1111.6L1545.65 1129.77L1526.5 1129.91L1541.9 1141.28L1536.12 1159.54L1551.7 1148.4L1567.28 1159.54L1561.5 1141.28L1576.9 1129.91L1557.75 1129.77Z" fill="#CD4F60" stroke="#CD4F60" stroke-width="2.6" clip-path="url(#cm26)"/><path d="M1984.3 1314.3L1978.25 1332.47L1959.1 1332.61L1974.5 1343.98L1968.72 1362.24L1984.3 1351.1L1999.88 1362.24L1994.1 1343.98L2009.5 1332.61L1990.35 1332.47Z" fill="#fff" stroke="#CD4F60" stroke-width="2.6"/><path d="M1984.3 1314.3L1978.25 1332.47L1959.1 1332.61L1974.5 1343.98L1968.72 1362.24L1984.3 1351.1L1999.88 1362.24L1994.1 1343.98L2009.5 1332.61L1990.35 1332.47Z" fill="#CD4F60" stroke="#CD4F60" stroke-width="2.6" clip-path="url(#cm27)"/></g>
<text x="287.51" y="1369" font-size="46" text-anchor="start" fill="#000" >Au@MIL-4F</text>
<text x="371.83" y="1462.5" font-size="46" text-anchor="start" fill="#000" >HL-NC@Ni-800</text>
<text x="389.03" y="1556.8" font-size="46" text-anchor="start" fill="#000" >MOF-OH</text>
<text x="269.05" y="1613" font-size="46" text-anchor="start" fill="#000" >Carbon</text>
<text x="444.23" y="1625.8" font-size="46" text-anchor="start" fill="#000" >MIL-101-Cr</text>
<text x="454.23" y="1736" font-size="46" text-anchor="start" fill="#000" >Resin</text>
<text x="999.83" y="1460.4" font-size="46" text-anchor="start" fill="#000" >PAC</text>
<text x="738.95" y="1640" font-size="46" text-anchor="start" fill="#000" >Carbon</text>
<text x="918.23" y="1607" font-size="46" text-anchor="start" fill="#000" textLength="213" lengthAdjust="spacingAndGlyphs">MIL-101-Cr</text>
<text x="905.43" y="1729.7" font-size="46" text-anchor="start" fill="#000" >Resin</text>
<text x="1305.23" y="1447" font-size="46" text-anchor="start" fill="#000" >SDS-LDH</text>
<text x="1291.65" y="1576.2" font-size="46" text-anchor="start" fill="#000" >CSAC800</text>
<text x="1272.65" y="1655.6" font-size="46" text-anchor="start" fill="#000" >CSAC600</text>
<text x="1281.53" y="1770.2" font-size="46" text-anchor="start" fill="#000" >R-CAC</text>
<text x="1750.49" y="1543.2" font-size="46" text-anchor="start" fill="#000" >TFPM-Pa-CF<tspan font-size="27.6" baseline-shift="-13.8">3</tspan></text>
<text x="1630.59" y="1692" font-size="46" text-anchor="start" fill="#000" >TpPa-CF<tspan font-size="27.6" baseline-shift="-13.8">3</tspan></text>
<text x="1859.53" y="1757.5" font-size="46" text-anchor="start" fill="#000" >MIL-101</text>
<text x="2496.3" y="1070" font-size="107" text-anchor="start" fill="#000" >d</text>
<clipPath id="dclip"><rect x="2511.5" y="1091.4" width="869.3" height="699.4"/></clipPath>
<g clip-path="url(#dclip)"><path d="M2554.1 1231.24L2554.84 1236.1L2555.58 1240.88L2556.31 1245.57L2557.05 1250.15L2557.79 1254.6L2558.53 1258.91L2559.26 1263.06L2560 1267.03L2560.74 1270.8L2561.48 1274.36L2562.21 1277.69L2562.95 1280.78L2563.69 1283.73L2564.43 1286.58L2565.16 1289.34L2565.9 1292.01L2566.64 1294.6L2567.38 1297.1L2568.11 1299.53L2568.85 1301.87L2569.59 1304.14L2570.33 1306.34L2571.06 1308.47L2571.8 1310.53L2572.54 1312.52L2573.28 1314.45L2574.01 1316.32L2574.75 1318.13L2575.49 1319.88L2576.23 1321.58L2576.96 1323.26L2577.7 1324.91L2578.44 1326.53L2579.18 1328.12L2579.92 1329.69L2580.65 1331.23L2581.39 1332.74L2582.13 1334.23L2582.87 1335.69L2583.6 1337.13L2584.34 1338.53L2585.08 1339.91L2585.82 1341.26L2586.55 1342.59L2587.29 1343.89L2588.03 1345.16L2588.77 1346.4L2589.5 1347.62L2590.24 1348.81L2590.98 1349.97L2591.72 1351.11L2592.45 1352.21L2593.19 1353.29L2593.93 1354.35L2594.67 1355.37L2595.4 1356.37L2596.14 1357.34L2596.88 1358.28L2597.62 1359.19L2603.83 1366.31L2610.05 1372.42L2616.27 1377.42L2622.48 1381.31L2628.7 1384.69L2634.92 1387.7L2641.13 1390.37L2647.35 1392.72L2653.57 1394.78L2659.78 1396.59L2666 1398.13L2672.22 1399.45L2678.43 1400.66L2684.65 1401.84L2690.87 1403.05L2697.08 1404.25L2703.3 1405.43L2709.52 1406.6L2715.73 1407.73L2721.95 1408.83L2728.17 1409.87L2734.38 1410.86L2740.6 1411.79L2746.82 1412.64L2753.03 1413.42L2759.25 1414.18L2765.47 1414.93L2771.68 1415.66L2777.9 1416.36L2784.12 1417.02L2790.34 1417.63L2796.55 1418.17L2802.77 1418.64L2808.99 1419.03L2815.2 1419.32L2821.42 1419.57L2827.64 1419.79L2833.85 1420.01L2840.07 1420.21L2846.29 1420.39L2852.5 1420.57L2858.72 1420.72L2864.94 1420.87L2871.15 1421L2877.37 1421.11L2883.59 1421.21L2889.8 1421.3L2896.02 1421.37L2902.24 1421.42L2908.45 1421.47L2914.67 1421.51L2920.89 1421.56L2927.1 1421.6L2933.32 1421.64L2939.54 1421.68L2945.75 1421.71L2951.97 1421.75L2958.19 1421.79L2964.4 1421.82L2970.62 1421.85L2976.84 1421.88L2983.05 1421.91L2989.27 1421.93L2995.49 1421.96L3001.7 1421.98L3007.92 1422L3014.14 1422.02L3020.35 1422.04L3026.57 1422.06L3032.79 1422.07L3039 1422.09L3045.22 1422.1L3051.44 1422.11L3057.65 1422.11L3063.87 1422.12L3070.09 1422.12L3076.3 1422.12L3082.52 1422.12L3088.74 1422.12L3094.95 1422.12L3101.17 1422.12L3107.39 1422.12L3113.6 1422.11L3119.82 1422.11L3126.04 1422.11L3132.25 1422.1L3138.47 1422.1L3144.69 1422.09L3150.9 1422.08L3157.12 1422.08L3163.34 1422.07L3169.55 1422.06L3175.77 1422.05L3181.99 1422.04L3188.2 1422.03L3194.42 1422.02L3200.64 1422L3206.86 1421.99L3213.07 1421.98L3219.29 1421.96L3225.51 1421.94L3231.72 1421.92L3237.94 1421.9L3244.16 1421.88L3250.37 1421.86L3256.59 1421.84L3262.81 1421.82L3269.02 1421.79L3275.24 1421.76L3281.46 1421.74L3287.67 1421.71L3293.89 1421.68L3300.11 1421.64L3306.32 1421.61L3312.54 1421.58L3318.76 1421.54L3324.97 1421.5L3331.19 1421.46L3337.41 1421.42" fill="none" stroke="#BEBEBE" stroke-width="4.6" stroke-linejoin="round" stroke-linecap="round"/><path d="M2554.1 1238.23L2554.84 1246.37L2555.58 1254.38L2556.31 1262.22L2557.05 1269.83L2557.79 1277.15L2558.53 1284.14L2559.26 1290.73L2560 1296.87L2560.74 1302.51L2561.48 1307.59L2562.21 1312.05L2562.95 1315.86L2563.69 1319.29L2564.43 1322.51L2565.16 1325.55L2565.9 1328.4L2566.64 1331.09L2567.38 1333.63L2568.11 1336.03L2568.85 1338.32L2569.59 1340.51L2570.33 1342.61L2571.06 1344.64L2571.8 1346.61L2572.54 1348.53L2573.28 1350.43L2574.01 1352.32L2574.75 1354.22L2575.49 1356.13L2576.23 1358.07L2576.96 1360.01L2577.7 1361.94L2578.44 1363.85L2579.18 1365.75L2579.92 1367.63L2580.65 1369.48L2581.39 1371.3L2582.13 1373.09L2582.87 1374.84L2583.6 1376.55L2584.34 1378.21L2585.08 1379.82L2585.82 1381.38L2586.55 1382.87L2587.29 1384.31L2588.03 1385.68L2588.77 1386.98L2589.5 1388.21L2590.24 1389.35L2590.98 1390.42L2591.72 1391.47L2592.45 1392.5L2593.19 1393.52L2593.93 1394.52L2594.67 1395.5L2595.4 1396.47L2596.14 1397.43L2596.88 1398.37L2597.62 1399.29L2603.83 1406.43L2610.05 1412.33L2616.27 1416.89L2622.48 1420.12L2628.7 1422.77L2634.92 1425.04L2641.13 1426.98L2647.35 1428.66L2653.57 1430.13L2659.78 1431.47L2666 1432.75L2672.22 1433.91L2678.43 1434.83L2684.65 1435.41L2690.87 1435.75L2697.08 1436.06L2703.3 1436.32L2709.52 1436.56L2715.73 1436.76L2721.95 1436.94L2728.17 1437.09L2734.38 1437.23L2740.6 1437.35L2746.82 1437.45L2753.03 1437.55L2759.25 1437.65L2765.47 1437.74L2771.68 1437.82L2777.9 1437.89L2784.12 1437.96L2790.34 1438.02L2796.55 1438.08L2802.77 1438.13L2808.99 1438.17L2815.2 1438.2L2821.42 1438.23L2827.64 1438.26L2833.85 1438.29L2840.07 1438.32L2846.29 1438.35L2852.5 1438.38L2858.72 1438.4L2864.94 1438.43L2871.15 1438.45L2877.37 1438.48L2883.59 1438.5L2889.8 1438.53L2896.02 1438.55L2902.24 1438.57L2908.45 1438.59L2914.67 1438.62L2920.89 1438.64L2927.1 1438.66L2933.32 1438.68L2939.54 1438.69L2945.75 1438.71L2951.97 1438.73L2958.19 1438.75L2964.4 1438.76L2970.62 1438.78L2976.84 1438.79L2983.05 1438.8L2989.27 1438.82L2995.49 1438.83L3001.7 1438.84L3007.92 1438.85L3014.14 1438.86L3020.35 1438.87L3026.57 1438.87L3032.79 1438.88L3039 1438.89L3045.22 1438.89L3051.44 1438.9L3057.65 1438.9L3063.87 1438.9L3070.09 1438.9L3076.3 1438.9L3082.52 1438.9L3088.74 1438.9L3094.95 1438.9L3101.17 1438.9L3107.39 1438.9L3113.6 1438.9L3119.82 1438.9L3126.04 1438.9L3132.25 1438.9L3138.47 1438.9L3144.69 1438.9L3150.9 1438.9L3157.12 1438.9L3163.34 1438.9L3169.55 1438.9L3175.77 1438.9L3181.99 1438.9L3188.2 1438.9L3194.42 1438.9L3200.64 1438.9L3206.86 1438.9L3213.07 1438.9L3219.29 1438.9L3225.51 1438.9L3231.72 1438.9L3237.94 1438.9L3244.16 1438.9L3250.37 1438.9L3256.59 1438.9L3262.81 1438.9L3269.02 1438.9L3275.24 1438.9L3281.46 1438.9L3287.67 1438.9L3293.89 1438.9L3300.11 1438.9L3306.32 1438.9L3312.54 1438.9L3318.76 1438.9L3324.97 1438.9L3331.19 1438.9L3337.41 1438.9" fill="none" stroke="#F3AEBB" stroke-width="4.6" stroke-linejoin="round" stroke-linecap="round"/><path d="M2554.1 1227.74L2554.84 1229.92L2555.58 1232.08L2556.31 1234.22L2557.05 1236.34L2557.79 1238.43L2558.53 1240.48L2559.26 1242.48L2560 1244.43L2560.74 1246.33L2561.48 1248.16L2562.21 1249.92L2562.95 1251.61L2563.69 1253.21L2564.43 1254.72L2565.16 1256.14L2565.9 1257.45L2566.64 1258.66L2567.38 1259.75L2568.11 1260.72L2568.85 1261.62L2569.59 1262.51L2570.33 1263.37L2571.06 1264.21L2571.8 1265.03L2572.54 1265.82L2573.28 1266.59L2574.01 1267.35L2574.75 1268.08L2575.49 1268.79L2576.23 1269.47L2576.96 1270.14L2577.7 1270.79L2578.44 1271.41L2579.18 1272.01L2579.92 1272.6L2580.65 1273.16L2581.39 1273.7L2582.13 1274.22L2582.87 1274.72L2583.6 1275.2L2584.34 1275.66L2585.08 1276.1L2585.82 1276.52L2586.55 1276.92L2587.29 1277.3L2588.03 1277.66L2588.77 1278L2589.5 1278.32L2590.24 1278.62L2590.98 1278.91L2591.72 1279.19L2592.45 1279.46L2593.19 1279.72L2593.93 1279.98L2594.67 1280.24L2595.4 1280.49L2596.14 1280.73L2596.88 1280.97L2597.62 1281.2L2603.83 1282.96L2610.05 1284.36L2616.27 1285.39L2622.48 1286.11L2628.7 1286.69L2634.92 1287.19L2641.13 1287.62L2647.35 1287.99L2653.57 1288.33L2659.78 1288.64L2666 1288.95L2672.22 1289.26L2678.43 1289.6L2684.65 1289.97L2690.87 1290.39L2697.08 1290.82L2703.3 1291.28L2709.52 1291.75L2715.73 1292.23L2721.95 1292.72L2728.17 1293.21L2734.38 1293.71L2740.6 1294.2L2746.82 1294.68L2753.03 1295.15L2759.25 1295.61L2765.47 1296.04L2771.68 1296.45L2777.9 1296.84L2784.12 1297.19L2790.34 1297.51L2796.55 1297.79L2802.77 1298.03L2808.99 1298.22L2815.2 1298.36L2821.42 1298.48L2827.64 1298.59L2833.85 1298.69L2840.07 1298.8L2846.29 1298.89L2852.5 1298.99L2858.72 1299.08L2864.94 1299.17L2871.15 1299.25L2877.37 1299.33L2883.59 1299.4L2889.8 1299.46L2896.02 1299.52L2902.24 1299.58L2908.45 1299.62L2914.67 1299.67L2920.89 1299.7L2927.1 1299.73L2933.32 1299.75L2939.54 1299.76L2945.75 1299.76L2951.97 1299.75L2958.19 1299.72L2964.4 1299.68L2970.62 1299.62L2976.84 1299.54L2983.05 1299.46L2989.27 1299.36L2995.49 1299.25L3001.7 1299.14L3007.92 1299.02L3014.14 1298.89L3020.35 1298.76L3026.57 1298.63L3032.79 1298.49L3039 1298.36L3045.22 1298.23L3051.44 1298.1L3057.65 1297.98L3063.87 1297.87L3070.09 1297.76L3076.3 1297.66L3082.52 1297.57L3088.74 1297.48L3094.95 1297.39L3101.17 1297.3L3107.39 1297.21L3113.6 1297.12L3119.82 1297.03L3126.04 1296.94L3132.25 1296.85L3138.47 1296.76L3144.69 1296.67L3150.9 1296.59L3157.12 1296.5L3163.34 1296.41L3169.55 1296.32L3175.77 1296.24L3181.99 1296.15L3188.2 1296.07L3194.42 1295.98L3200.64 1295.9L3206.86 1295.81L3213.07 1295.73L3219.29 1295.65L3225.51 1295.56L3231.72 1295.48L3237.94 1295.4L3244.16 1295.32L3250.37 1295.24L3256.59 1295.16L3262.81 1295.08L3269.02 1295L3275.24 1294.92L3281.46 1294.84L3287.67 1294.77L3293.89 1294.69L3300.11 1294.61L3306.32 1294.54L3312.54 1294.46L3318.76 1294.39L3324.97 1294.31L3331.19 1294.24L3337.41 1294.17" fill="none" stroke="#8BBDCC" stroke-width="4.6" stroke-linejoin="round" stroke-linecap="round"/><path d="M2554.1 1266.2L2554.84 1268.44L2555.58 1270.66L2556.31 1272.86L2557.05 1275.05L2557.79 1277.23L2558.53 1279.39L2559.26 1281.54L2560 1283.68L2560.74 1285.8L2561.48 1287.9L2562.21 1290L2562.95 1292.08L2563.69 1294.15L2564.43 1296.2L2565.16 1298.24L2565.9 1300.28L2566.64 1302.29L2567.38 1304.3L2568.11 1306.29L2568.85 1308.3L2569.59 1310.33L2570.33 1312.37L2571.06 1314.4L2571.8 1316.41L2572.54 1318.4L2573.28 1320.34L2574.01 1322.22L2574.75 1324.03L2575.49 1325.75L2576.23 1327.38L2576.96 1328.91L2577.7 1330.39L2578.44 1331.86L2579.18 1333.3L2579.92 1334.72L2580.65 1336.12L2581.39 1337.5L2582.13 1338.85L2582.87 1340.18L2583.6 1341.48L2584.34 1342.76L2585.08 1344.01L2585.82 1345.23L2586.55 1346.42L2587.29 1347.59L2588.03 1348.72L2588.77 1349.82L2589.5 1350.89L2590.24 1351.93L2590.98 1352.94L2591.72 1353.91L2592.45 1354.84L2593.19 1355.74L2593.93 1356.6L2594.67 1357.43L2595.4 1358.22L2596.14 1359L2596.88 1359.76L2597.62 1360.51L2603.83 1366.37L2610.05 1371.36L2616.27 1375.47L2622.48 1378.72L2628.7 1381.44L2634.92 1383.83L2641.13 1385.92L2647.35 1387.78L2653.57 1389.44L2659.78 1390.95L2666 1392.27L2672.22 1393.43L2678.43 1394.5L2684.65 1395.55L2690.87 1396.59L2697.08 1397.57L2703.3 1398.51L2709.52 1399.43L2715.73 1400.33L2721.95 1401.23L2728.17 1402.14L2734.38 1403.07L2740.6 1404.03L2746.82 1405.04L2753.03 1406.09L2759.25 1407.18L2765.47 1408.29L2771.68 1409.43L2777.9 1410.59L2784.12 1411.77L2790.34 1412.97L2796.55 1414.18L2802.77 1415.42L2808.99 1416.67L2815.2 1417.93L2821.42 1419.22L2827.64 1420.57L2833.85 1421.97L2840.07 1423.4L2846.29 1424.85L2852.5 1426.31L2858.72 1427.78L2864.94 1429.23L2871.15 1430.67L2877.37 1432.08L2883.59 1433.45L2889.8 1434.77L2896.02 1436.02L2902.24 1437.21L2908.45 1438.31L2914.67 1439.35L2920.89 1440.34L2927.1 1441.33L2933.32 1442.33L2939.54 1443.38L2945.75 1444.5L2951.97 1445.72L2958.19 1447.05L2964.4 1448.48L2970.62 1449.99L2976.84 1451.56L2983.05 1453.18L2989.27 1454.84L2995.49 1456.52L3001.7 1458.21L3007.92 1459.88L3014.14 1461.52L3020.35 1463.13L3026.57 1464.67L3032.79 1466.15L3039 1467.54L3045.22 1468.82L3051.44 1469.99L3057.65 1471.02L3063.87 1471.9L3070.09 1472.62L3076.3 1473.16L3082.52 1473.6L3088.74 1474.02L3094.95 1474.42L3101.17 1474.8L3107.39 1475.16L3113.6 1475.51L3119.82 1475.83L3126.04 1476.15L3132.25 1476.44L3138.47 1476.72L3144.69 1476.98L3150.9 1477.22L3157.12 1477.45L3163.34 1477.67L3169.55 1477.87L3175.77 1478.05L3181.99 1478.22L3188.2 1478.38L3194.42 1478.52L3200.64 1478.64L3206.86 1478.76L3213.07 1478.86L3219.29 1478.97L3225.51 1479.07L3231.72 1479.17L3237.94 1479.27L3244.16 1479.36L3250.37 1479.45L3256.59 1479.54L3262.81 1479.62L3269.02 1479.7L3275.24 1479.77L3281.46 1479.84L3287.67 1479.9L3293.89 1479.96L3300.11 1480.01L3306.32 1480.05L3312.54 1480.09L3318.76 1480.12L3324.97 1480.14L3331.19 1480.15L3337.41 1480.16" fill="none" stroke="#76B892" stroke-width="4.6" stroke-linejoin="round" stroke-linecap="round"/><path d="M2554.1 1207.47L2554.84 1261.54L2555.58 1310.43L2556.31 1351.98L2557.05 1387.63L2557.79 1419.68L2558.53 1448.07L2559.26 1472.75L2560 1495.09L2560.74 1515.8L2561.48 1532.92L2562.21 1544.53L2562.95 1552.82L2563.69 1560.3L2564.43 1567.05L2565.16 1573.13L2565.9 1578.6L2566.64 1583.52L2567.38 1587.97L2568.11 1592L2568.85 1595.68L2569.59 1599.08L2570.33 1602.26L2571.06 1605.28L2571.8 1608.17L2572.54 1610.91L2573.28 1613.51L2574.01 1615.96L2574.75 1618.3L2575.49 1620.51L2576.23 1622.61L2576.96 1624.62L2577.7 1626.53L2578.44 1628.36L2579.18 1630.11L2579.92 1631.8L2580.65 1633.43L2581.39 1635.02L2582.13 1636.56L2582.87 1638.08L2583.6 1639.57L2584.34 1641.04L2585.08 1642.47L2585.82 1643.88L2586.55 1645.26L2587.29 1646.61L2588.03 1647.93L2588.77 1649.22L2589.5 1650.48L2590.24 1651.71L2590.98 1652.9L2591.72 1654.07L2592.45 1655.21L2593.19 1656.31L2593.93 1657.38L2594.67 1658.42L2595.4 1659.43L2596.14 1660.41L2596.88 1661.35L2597.62 1662.26L2603.83 1668.82L2610.05 1674.19L2616.27 1678.7L2622.48 1682.62L2628.7 1686.21L2634.92 1689.51L2641.13 1692.49L2647.35 1695.12L2653.57 1697.4L2659.78 1699.41L2666 1701.28L2672.22 1702.93L2678.43 1704.3L2684.65 1705.3L2690.87 1706.04L2697.08 1706.67L2703.3 1707.23L2709.52 1707.71L2715.73 1708.15L2721.95 1708.55L2728.17 1708.94L2734.38 1709.33L2740.6 1709.74L2746.82 1710.14L2753.03 1710.55L2759.25 1710.95L2765.47 1711.35L2771.68 1711.73L2777.9 1712.09L2784.12 1712.43L2790.34 1712.75L2796.55 1713.04L2802.77 1713.29L2808.99 1713.51L2815.2 1713.69L2821.42 1713.84L2827.64 1713.99L2833.85 1714.14L2840.07 1714.28L2846.29 1714.42L2852.5 1714.54L2858.72 1714.66L2864.94 1714.76L2871.15 1714.86L2877.37 1714.94L2883.59 1715L2889.8 1715.05L2896.02 1715.08L2902.24 1715.09L2908.45 1715.09L2914.67 1715.09L2920.89 1715.09L2927.1 1715.09L2933.32 1715.09L2939.54 1715.09L2945.75 1715.09L2951.97 1715.09L2958.19 1715.09L2964.4 1715.09L2970.62 1715.09L2976.84 1715.09L2983.05 1715.09L2989.27 1715.09L2995.49 1715.09L3001.7 1715.09L3007.92 1715.09L3014.14 1715.09L3020.35 1715.09L3026.57 1715.09L3032.79 1715.09L3039 1715.09L3045.22 1715.09L3051.44 1715.09L3057.65 1715.09L3063.87 1715.09L3070.09 1715.09L3076.3 1715.09L3082.52 1715.09L3088.74 1715.08L3094.95 1715.08L3101.17 1715.08L3107.39 1715.07L3113.6 1715.07L3119.82 1715.06L3126.04 1715.05L3132.25 1715.04L3138.47 1715.03L3144.69 1715.02L3150.9 1715.01L3157.12 1715L3163.34 1714.99L3169.55 1714.97L3175.77 1714.96L3181.99 1714.94L3188.2 1714.93L3194.42 1714.91L3200.64 1714.89L3206.86 1714.88L3213.07 1714.86L3219.29 1714.84L3225.51 1714.82L3231.72 1714.8L3237.94 1714.78L3244.16 1714.76L3250.37 1714.73L3256.59 1714.71L3262.81 1714.69L3269.02 1714.67L3275.24 1714.64L3281.46 1714.62L3287.67 1714.59L3293.89 1714.57L3300.11 1714.54L3306.32 1714.52L3312.54 1714.49L3318.76 1714.47L3324.97 1714.44L3331.19 1714.41L3337.41 1714.39" fill="none" stroke="#FDB66E" stroke-width="4.6" stroke-linejoin="round" stroke-linecap="round"/><line x1="2554.1" y1="1168.31" x2="2554.1" y2="1301.16" stroke="#BEBEBE" stroke-width="3.2" /><line x1="2546.1" y1="1168.31" x2="2562.1" y2="1168.31" stroke="#BEBEBE" stroke-width="3.2" /><line x1="2546.1" y1="1301.16" x2="2562.1" y2="1301.16" stroke="#BEBEBE" stroke-width="3.2" /><line x1="2575.86" y1="1248.02" x2="2575.86" y2="1345.91" stroke="#BEBEBE" stroke-width="3.2" /><line x1="2567.86" y1="1248.02" x2="2583.86" y2="1248.02" stroke="#BEBEBE" stroke-width="3.2" /><line x1="2567.86" y1="1345.91" x2="2583.86" y2="1345.91" stroke="#BEBEBE" stroke-width="3.2" /><line x1="2619.38" y1="1317.94" x2="2619.38" y2="1366.88" stroke="#BEBEBE" stroke-width="3.2" /><line x1="2611.38" y1="1317.94" x2="2627.38" y2="1317.94" stroke="#BEBEBE" stroke-width="3.2" /><line x1="2611.38" y1="1366.88" x2="2627.38" y2="1366.88" stroke="#BEBEBE" stroke-width="3.2" /><line x1="2684.65" y1="1336.12" x2="2684.65" y2="1427.02" stroke="#BEBEBE" stroke-width="3.2" /><line x1="2676.65" y1="1336.12" x2="2692.65" y2="1336.12" stroke="#BEBEBE" stroke-width="3.2" /><line x1="2676.65" y1="1427.02" x2="2692.65" y2="1427.02" stroke="#BEBEBE" stroke-width="3.2" /><line x1="2815.2" y1="1352.2" x2="2815.2" y2="1501.83" stroke="#BEBEBE" stroke-width="3.2" /><line x1="2807.2" y1="1352.2" x2="2823.2" y2="1352.2" stroke="#BEBEBE" stroke-width="3.2" /><line x1="2807.2" y1="1501.83" x2="2823.2" y2="1501.83" stroke="#BEBEBE" stroke-width="3.2" /><line x1="2945.75" y1="1354.3" x2="2945.75" y2="1489.94" stroke="#BEBEBE" stroke-width="3.2" /><line x1="2937.75" y1="1354.3" x2="2953.75" y2="1354.3" stroke="#BEBEBE" stroke-width="3.2" /><line x1="2937.75" y1="1489.94" x2="2953.75" y2="1489.94" stroke="#BEBEBE" stroke-width="3.2" /><line x1="3076.3" y1="1365.49" x2="3076.3" y2="1505.33" stroke="#BEBEBE" stroke-width="3.2" /><line x1="3068.3" y1="1365.49" x2="3084.3" y2="1365.49" stroke="#BEBEBE" stroke-width="3.2" /><line x1="3068.3" y1="1505.33" x2="3084.3" y2="1505.33" stroke="#BEBEBE" stroke-width="3.2" /><line x1="3337.41" y1="1382.97" x2="3337.41" y2="1480.85" stroke="#BEBEBE" stroke-width="3.2" /><line x1="3329.41" y1="1382.97" x2="3345.41" y2="1382.97" stroke="#BEBEBE" stroke-width="3.2" /><line x1="3329.41" y1="1480.85" x2="3345.41" y2="1480.85" stroke="#BEBEBE" stroke-width="3.2" /><line x1="2554.1" y1="1142.44" x2="2554.1" y2="1334.02" stroke="#E3929D" stroke-width="3.2" /><line x1="2546.1" y1="1142.44" x2="2562.1" y2="1142.44" stroke="#E3929D" stroke-width="3.2" /><line x1="2546.1" y1="1334.02" x2="2562.1" y2="1334.02" stroke="#E3929D" stroke-width="3.2" /><line x1="2558.45" y1="1147.34" x2="2558.45" y2="1371.08" stroke="#E3929D" stroke-width="3.2" /><line x1="2550.45" y1="1147.34" x2="2566.45" y2="1147.34" stroke="#E3929D" stroke-width="3.2" /><line x1="2550.45" y1="1371.08" x2="2566.45" y2="1371.08" stroke="#E3929D" stroke-width="3.2" /><line x1="2575.86" y1="1254.31" x2="2575.86" y2="1424.92" stroke="#E3929D" stroke-width="3.2" /><line x1="2567.86" y1="1254.31" x2="2583.86" y2="1254.31" stroke="#E3929D" stroke-width="3.2" /><line x1="2567.86" y1="1424.92" x2="2583.86" y2="1424.92" stroke="#E3929D" stroke-width="3.2" /><line x1="2619.38" y1="1308.15" x2="2619.38" y2="1475.96" stroke="#E3929D" stroke-width="3.2" /><line x1="2611.38" y1="1308.15" x2="2627.38" y2="1308.15" stroke="#E3929D" stroke-width="3.2" /><line x1="2611.38" y1="1475.96" x2="2627.38" y2="1475.96" stroke="#E3929D" stroke-width="3.2" /><line x1="2684.65" y1="1360.59" x2="2684.65" y2="1486.45" stroke="#E3929D" stroke-width="3.2" /><line x1="2676.65" y1="1360.59" x2="2692.65" y2="1360.59" stroke="#E3929D" stroke-width="3.2" /><line x1="2676.65" y1="1486.45" x2="2692.65" y2="1486.45" stroke="#E3929D" stroke-width="3.2" /><line x1="2815.2" y1="1335.42" x2="2815.2" y2="1493.44" stroke="#E3929D" stroke-width="3.2" /><line x1="2807.2" y1="1335.42" x2="2823.2" y2="1335.42" stroke="#E3929D" stroke-width="3.2" /><line x1="2807.2" y1="1493.44" x2="2823.2" y2="1493.44" stroke="#E3929D" stroke-width="3.2" /><line x1="2945.75" y1="1346.61" x2="2945.75" y2="1504.63" stroke="#E3929D" stroke-width="3.2" /><line x1="2937.75" y1="1346.61" x2="2953.75" y2="1346.61" stroke="#E3929D" stroke-width="3.2" /><line x1="2937.75" y1="1504.63" x2="2953.75" y2="1504.63" stroke="#E3929D" stroke-width="3.2" /><line x1="3076.3" y1="1357.8" x2="3076.3" y2="1507.42" stroke="#E3929D" stroke-width="3.2" /><line x1="3068.3" y1="1357.8" x2="3084.3" y2="1357.8" stroke="#E3929D" stroke-width="3.2" /><line x1="3068.3" y1="1507.42" x2="3084.3" y2="1507.42" stroke="#E3929D" stroke-width="3.2" /><line x1="3337.41" y1="1345.21" x2="3337.41" y2="1517.21" stroke="#E3929D" stroke-width="3.2" /><line x1="3329.41" y1="1345.21" x2="3345.41" y2="1345.21" stroke="#E3929D" stroke-width="3.2" /><line x1="3329.41" y1="1517.21" x2="3345.41" y2="1517.21" stroke="#E3929D" stroke-width="3.2" /><line x1="2551.49" y1="1210.26" x2="2551.49" y2="1259.21" stroke="#8BBDCC" stroke-width="3.2" /><line x1="2543.49" y1="1210.26" x2="2559.49" y2="1210.26" stroke="#8BBDCC" stroke-width="3.2" /><line x1="2543.49" y1="1259.21" x2="2559.49" y2="1259.21" stroke="#8BBDCC" stroke-width="3.2" /><line x1="2575.86" y1="1221.45" x2="2575.86" y2="1291.37" stroke="#8BBDCC" stroke-width="3.2" /><line x1="2567.86" y1="1221.45" x2="2583.86" y2="1221.45" stroke="#8BBDCC" stroke-width="3.2" /><line x1="2567.86" y1="1291.37" x2="2583.86" y2="1291.37" stroke="#8BBDCC" stroke-width="3.2" /><line x1="2619.38" y1="1248.72" x2="2619.38" y2="1315.84" stroke="#8BBDCC" stroke-width="3.2" /><line x1="2611.38" y1="1248.72" x2="2627.38" y2="1248.72" stroke="#8BBDCC" stroke-width="3.2" /><line x1="2611.38" y1="1315.84" x2="2627.38" y2="1315.84" stroke="#8BBDCC" stroke-width="3.2" /><line x1="2684.65" y1="1234.74" x2="2684.65" y2="1321.44" stroke="#8BBDCC" stroke-width="3.2" /><line x1="2676.65" y1="1234.74" x2="2692.65" y2="1234.74" stroke="#8BBDCC" stroke-width="3.2" /><line x1="2676.65" y1="1321.44" x2="2692.65" y2="1321.44" stroke="#8BBDCC" stroke-width="3.2" /><line x1="2815.2" y1="1245.22" x2="2815.2" y2="1350.1" stroke="#8BBDCC" stroke-width="3.2" /><line x1="2807.2" y1="1245.22" x2="2823.2" y2="1245.22" stroke="#8BBDCC" stroke-width="3.2" /><line x1="2807.2" y1="1350.1" x2="2823.2" y2="1350.1" stroke="#8BBDCC" stroke-width="3.2" /><line x1="2945.75" y1="1255.71" x2="2945.75" y2="1350.8" stroke="#8BBDCC" stroke-width="3.2" /><line x1="2937.75" y1="1255.71" x2="2953.75" y2="1255.71" stroke="#8BBDCC" stroke-width="3.2" /><line x1="2937.75" y1="1350.8" x2="2953.75" y2="1350.8" stroke="#8BBDCC" stroke-width="3.2" /><line x1="3076.3" y1="1259.21" x2="3076.3" y2="1336.12" stroke="#8BBDCC" stroke-width="3.2" /><line x1="3068.3" y1="1259.21" x2="3084.3" y2="1259.21" stroke="#8BBDCC" stroke-width="3.2" /><line x1="3068.3" y1="1336.12" x2="3084.3" y2="1336.12" stroke="#8BBDCC" stroke-width="3.2" /><line x1="3337.41" y1="1238.93" x2="3337.41" y2="1353.6" stroke="#8BBDCC" stroke-width="3.2" /><line x1="3329.41" y1="1238.93" x2="3345.41" y2="1238.93" stroke="#8BBDCC" stroke-width="3.2" /><line x1="3329.41" y1="1353.6" x2="3345.41" y2="1353.6" stroke="#8BBDCC" stroke-width="3.2" /><line x1="2554.1" y1="1190.69" x2="2554.1" y2="1341.71" stroke="#76B892" stroke-width="3.2" /><line x1="2546.1" y1="1190.69" x2="2562.1" y2="1190.69" stroke="#76B892" stroke-width="3.2" /><line x1="2546.1" y1="1341.71" x2="2562.1" y2="1341.71" stroke="#76B892" stroke-width="3.2" /><line x1="2575.86" y1="1245.92" x2="2575.86" y2="1355" stroke="#76B892" stroke-width="3.2" /><line x1="2567.86" y1="1245.92" x2="2583.86" y2="1245.92" stroke="#76B892" stroke-width="3.2" /><line x1="2567.86" y1="1355" x2="2583.86" y2="1355" stroke="#76B892" stroke-width="3.2" /><line x1="2619.38" y1="1259.91" x2="2619.38" y2="1455.68" stroke="#76B892" stroke-width="3.2" /><line x1="2611.38" y1="1259.91" x2="2627.38" y2="1259.91" stroke="#76B892" stroke-width="3.2" /><line x1="2611.38" y1="1455.68" x2="2627.38" y2="1455.68" stroke="#76B892" stroke-width="3.2" /><line x1="2684.65" y1="1280.18" x2="2684.65" y2="1403.24" stroke="#76B892" stroke-width="3.2" /><line x1="2676.65" y1="1280.18" x2="2692.65" y2="1280.18" stroke="#76B892" stroke-width="3.2" /><line x1="2676.65" y1="1403.24" x2="2692.65" y2="1403.24" stroke="#76B892" stroke-width="3.2" /><line x1="2815.2" y1="1248.72" x2="2815.2" y2="1458.48" stroke="#76B892" stroke-width="3.2" /><line x1="2807.2" y1="1248.72" x2="2823.2" y2="1248.72" stroke="#76B892" stroke-width="3.2" /><line x1="2807.2" y1="1458.48" x2="2823.2" y2="1458.48" stroke="#76B892" stroke-width="3.2" /><line x1="2945.75" y1="1345.21" x2="2945.75" y2="1457.08" stroke="#76B892" stroke-width="3.2" /><line x1="2937.75" y1="1345.21" x2="2953.75" y2="1345.21" stroke="#76B892" stroke-width="3.2" /><line x1="2937.75" y1="1457.08" x2="2953.75" y2="1457.08" stroke="#76B892" stroke-width="3.2" /><line x1="3076.3" y1="1468.97" x2="3076.3" y2="1517.91" stroke="#76B892" stroke-width="3.2" /><line x1="3068.3" y1="1468.97" x2="3084.3" y2="1468.97" stroke="#76B892" stroke-width="3.2" /><line x1="3068.3" y1="1517.91" x2="3084.3" y2="1517.91" stroke="#76B892" stroke-width="3.2" /><line x1="3337.41" y1="1472.46" x2="3337.41" y2="1528.4" stroke="#76B892" stroke-width="3.2" /><line x1="3329.41" y1="1472.46" x2="3345.41" y2="1472.46" stroke="#76B892" stroke-width="3.2" /><line x1="3329.41" y1="1528.4" x2="3345.41" y2="1528.4" stroke="#76B892" stroke-width="3.2" /><line x1="2554.1" y1="1172.51" x2="2554.1" y2="1242.43" stroke="#FDB66E" stroke-width="3.2" /><line x1="2546.1" y1="1172.51" x2="2562.1" y2="1172.51" stroke="#FDB66E" stroke-width="3.2" /><line x1="2546.1" y1="1242.43" x2="2562.1" y2="1242.43" stroke="#FDB66E" stroke-width="3.2" /><line x1="2559.32" y1="1485.75" x2="2559.32" y2="1551.47" stroke="#FDB66E" stroke-width="3.2" /><line x1="2551.32" y1="1485.75" x2="2567.32" y2="1485.75" stroke="#FDB66E" stroke-width="3.2" /><line x1="2551.32" y1="1551.47" x2="2567.32" y2="1551.47" stroke="#FDB66E" stroke-width="3.2" /><line x1="2575.86" y1="1542.38" x2="2575.86" y2="1624.89" stroke="#FDB66E" stroke-width="3.2" /><line x1="2567.86" y1="1542.38" x2="2583.86" y2="1542.38" stroke="#FDB66E" stroke-width="3.2" /><line x1="2567.86" y1="1624.89" x2="2583.86" y2="1624.89" stroke="#FDB66E" stroke-width="3.2" /><line x1="2619.38" y1="1647.96" x2="2619.38" y2="1661.95" stroke="#FDB66E" stroke-width="3.2" /><line x1="2611.38" y1="1647.96" x2="2627.38" y2="1647.96" stroke="#FDB66E" stroke-width="3.2" /><line x1="2611.38" y1="1661.95" x2="2627.38" y2="1661.95" stroke="#FDB66E" stroke-width="3.2" /><line x1="2684.65" y1="1630.48" x2="2684.65" y2="1717.18" stroke="#FDB66E" stroke-width="3.2" /><line x1="2676.65" y1="1630.48" x2="2692.65" y2="1630.48" stroke="#FDB66E" stroke-width="3.2" /><line x1="2676.65" y1="1717.18" x2="2692.65" y2="1717.18" stroke="#FDB66E" stroke-width="3.2" /><line x1="2815.2" y1="1653.56" x2="2815.2" y2="1745.85" stroke="#FDB66E" stroke-width="3.2" /><line x1="2807.2" y1="1653.56" x2="2823.2" y2="1653.56" stroke="#FDB66E" stroke-width="3.2" /><line x1="2807.2" y1="1745.85" x2="2823.2" y2="1745.85" stroke="#FDB66E" stroke-width="3.2" /><line x1="2945.75" y1="1657.05" x2="2945.75" y2="1740.96" stroke="#FDB66E" stroke-width="3.2" /><line x1="2937.75" y1="1657.05" x2="2953.75" y2="1657.05" stroke="#FDB66E" stroke-width="3.2" /><line x1="2937.75" y1="1740.96" x2="2953.75" y2="1740.96" stroke="#FDB66E" stroke-width="3.2" /><line x1="3076.3" y1="1700.4" x2="3076.3" y2="1728.37" stroke="#FDB66E" stroke-width="3.2" /><line x1="3068.3" y1="1700.4" x2="3084.3" y2="1700.4" stroke="#FDB66E" stroke-width="3.2" /><line x1="3068.3" y1="1728.37" x2="3084.3" y2="1728.37" stroke="#FDB66E" stroke-width="3.2" /><line x1="3337.41" y1="1697.61" x2="3337.41" y2="1722.78" stroke="#FDB66E" stroke-width="3.2" /><line x1="3329.41" y1="1697.61" x2="3345.41" y2="1697.61" stroke="#FDB66E" stroke-width="3.2" /><line x1="3329.41" y1="1722.78" x2="3345.41" y2="1722.78" stroke="#FDB66E" stroke-width="3.2" /><rect x="2537.6" y="1218.24" width="33" height="33" fill="none" stroke="#BEBEBE" stroke-width="5.4" stroke-linejoin="round"/><rect x="2559.36" y="1280.46" width="33" height="33" fill="none" stroke="#BEBEBE" stroke-width="5.4" stroke-linejoin="round"/><rect x="2602.88" y="1325.91" width="33" height="33" fill="none" stroke="#BEBEBE" stroke-width="5.4" stroke-linejoin="round"/><rect x="2668.15" y="1365.07" width="33" height="33" fill="none" stroke="#BEBEBE" stroke-width="5.4" stroke-linejoin="round"/><rect x="2798.7" y="1410.52" width="33" height="33" fill="none" stroke="#BEBEBE" stroke-width="5.4" stroke-linejoin="round"/><rect x="2929.25" y="1405.62" width="33" height="33" fill="none" stroke="#BEBEBE" stroke-width="5.4" stroke-linejoin="round"/><rect x="3059.8" y="1418.91" width="33" height="33" fill="none" stroke="#BEBEBE" stroke-width="5.4" stroke-linejoin="round"/><rect x="3320.91" y="1415.41" width="33" height="33" fill="none" stroke="#BEBEBE" stroke-width="5.4" stroke-linejoin="round"/><circle cx="2554.1" cy="1238.23" r="18.3" fill="none" stroke="#E3929D" stroke-width="5.4"/><circle cx="2575.86" cy="1339.62" r="18.3" fill="none" stroke="#E3929D" stroke-width="5.4"/><circle cx="2619.38" cy="1392.06" r="18.3" fill="none" stroke="#E3929D" stroke-width="5.4"/><circle cx="2684.65" cy="1423.52" r="18.3" fill="none" stroke="#E3929D" stroke-width="5.4"/><circle cx="2815.2" cy="1414.43" r="18.3" fill="none" stroke="#E3929D" stroke-width="5.4"/><circle cx="2945.75" cy="1425.62" r="18.3" fill="none" stroke="#E3929D" stroke-width="5.4"/><circle cx="3076.3" cy="1432.61" r="18.3" fill="none" stroke="#E3929D" stroke-width="5.4"/><circle cx="3337.41" cy="1431.21" r="18.3" fill="none" stroke="#E3929D" stroke-width="5.4"/><path d="M2551.49 1213.44L2573.74 1252.04L2529.24 1252.04Z" fill="none" stroke="#8BBDCC" stroke-width="5.4" stroke-linejoin="round"/><path d="M2575.86 1235.11L2598.11 1273.71L2553.61 1273.71Z" fill="none" stroke="#8BBDCC" stroke-width="5.4" stroke-linejoin="round"/><path d="M2619.38 1260.98L2641.63 1299.58L2597.13 1299.58Z" fill="none" stroke="#8BBDCC" stroke-width="5.4" stroke-linejoin="round"/><path d="M2684.65 1256.79L2706.9 1295.39L2662.4 1295.39Z" fill="none" stroke="#8BBDCC" stroke-width="5.4" stroke-linejoin="round"/><path d="M2815.2 1276.36L2837.45 1314.96L2792.95 1314.96Z" fill="none" stroke="#8BBDCC" stroke-width="5.4" stroke-linejoin="round"/><path d="M2945.75 1281.96L2968 1320.56L2923.5 1320.56Z" fill="none" stroke="#8BBDCC" stroke-width="5.4" stroke-linejoin="round"/><path d="M3076.3 1276.36L3098.55 1314.96L3054.05 1314.96Z" fill="none" stroke="#8BBDCC" stroke-width="5.4" stroke-linejoin="round"/><path d="M3337.41 1274.97L3359.66 1313.57L3315.16 1313.57Z" fill="none" stroke="#8BBDCC" stroke-width="5.4" stroke-linejoin="round"/><path d="M2554.1 1287.5L2576.35 1248.9L2531.85 1248.9Z" fill="none" stroke="#76B892" stroke-width="5.4" stroke-linejoin="round"/><path d="M2575.86 1321.76L2598.11 1283.16L2553.61 1283.16Z" fill="none" stroke="#76B892" stroke-width="5.4" stroke-linejoin="round"/><path d="M2619.38 1379.1L2641.63 1340.5L2597.13 1340.5Z" fill="none" stroke="#76B892" stroke-width="5.4" stroke-linejoin="round"/><path d="M2684.65 1363.01L2706.9 1324.41L2662.4 1324.41Z" fill="none" stroke="#76B892" stroke-width="5.4" stroke-linejoin="round"/><path d="M2815.2 1374.9L2837.45 1336.3L2792.95 1336.3Z" fill="none" stroke="#76B892" stroke-width="5.4" stroke-linejoin="round"/><path d="M2945.75 1422.45L2968 1383.85L2923.5 1383.85Z" fill="none" stroke="#76B892" stroke-width="5.4" stroke-linejoin="round"/><path d="M3076.3 1514.74L3098.55 1476.14L3054.05 1476.14Z" fill="none" stroke="#76B892" stroke-width="5.4" stroke-linejoin="round"/><path d="M3337.41 1521.73L3359.66 1483.13L3315.16 1483.13Z" fill="none" stroke="#76B892" stroke-width="5.4" stroke-linejoin="round"/><path d="M2554.1 1184.47L2577.1 1207.47L2554.1 1230.47L2531.1 1207.47Z" fill="none" stroke="#FDB66E" stroke-width="5.4" stroke-linejoin="round"/><path d="M2559.32 1495.61L2582.32 1518.61L2559.32 1541.61L2536.32 1518.61Z" fill="none" stroke="#FDB66E" stroke-width="5.4" stroke-linejoin="round"/><path d="M2575.86 1560.64L2598.86 1583.64L2575.86 1606.64L2552.86 1583.64Z" fill="none" stroke="#FDB66E" stroke-width="5.4" stroke-linejoin="round"/><path d="M2619.38 1631.96L2642.38 1654.96L2619.38 1677.96L2596.38 1654.96Z" fill="none" stroke="#FDB66E" stroke-width="5.4" stroke-linejoin="round"/><path d="M2684.65 1650.83L2707.65 1673.83L2684.65 1696.83L2661.65 1673.83Z" fill="none" stroke="#FDB66E" stroke-width="5.4" stroke-linejoin="round"/><path d="M2815.2 1676.7L2838.2 1699.7L2815.2 1722.7L2792.2 1699.7Z" fill="none" stroke="#FDB66E" stroke-width="5.4" stroke-linejoin="round"/><path d="M2945.75 1676L2968.75 1699L2945.75 1722L2922.75 1699Z" fill="none" stroke="#FDB66E" stroke-width="5.4" stroke-linejoin="round"/><path d="M3076.3 1691.39L3099.3 1714.39L3076.3 1737.39L3053.3 1714.39Z" fill="none" stroke="#FDB66E" stroke-width="5.4" stroke-linejoin="round"/><path d="M3337.41 1687.19L3360.41 1710.19L3337.41 1733.19L3314.41 1710.19Z" fill="none" stroke="#FDB66E" stroke-width="5.4" stroke-linejoin="round"/></g>
<rect x="2614" y="1108.1" width="33" height="33" fill="none" stroke="#BEBEBE" stroke-width="5.4" stroke-linejoin="round"/>
<text x="2703.03" y="1141.2" font-size="51.5" text-anchor="start" fill="#000" >UiO-66-<tspan font-style="italic">L</tspan><tspan font-size="35.02" baseline-shift="-15.45">1</tspan></text>
<circle cx="3011.5" cy="1124.6" r="18.3" fill="none" stroke="#E3929D" stroke-width="5.4"/>
<text x="3082.23" y="1141.2" font-size="51.5" text-anchor="start" fill="#000" >UiO-66-2<tspan font-style="italic">L</tspan><tspan font-size="35.02" baseline-shift="-15.45">1</tspan></text>
<path d="M2630.5 1175.4L2652.75 1214L2608.25 1214Z" fill="none" stroke="#8BBDCC" stroke-width="5.4" stroke-linejoin="round"/>
<text x="2703.03" y="1218.7" font-size="51.5" text-anchor="start" fill="#000" >UiO-66-<tspan font-style="italic">L</tspan><tspan font-size="35.02" baseline-shift="-15.45">2</tspan></text>
<path d="M3011.5 1225.8L3033.75 1187.2L2989.25 1187.2Z" fill="none" stroke="#76B892" stroke-width="5.4" stroke-linejoin="round"/>
<text x="3082.23" y="1218.7" font-size="51.5" text-anchor="start" fill="#000" >UiO-66-2<tspan font-style="italic">L</tspan><tspan font-size="35.02" baseline-shift="-15.45">2</tspan></text>
<path d="M2696 1544.5L2719 1567.5L2696 1590.5L2673 1567.5Z" fill="none" stroke="#FDB66E" stroke-width="5.4" stroke-linejoin="round"/>
<text x="2767.73" y="1584.1" font-size="51.5" text-anchor="start" fill="#000" >UiO-66-<tspan font-style="italic">L</tspan><tspan font-size="35.02" baseline-shift="-15.45">3</tspan></text>
<line x1="3064" y1="1619" x2="3181" y2="1619" stroke="#BEBEBE" stroke-width="4.8" stroke-linecap="round"/>
<text x="3194.72" y="1636" font-size="51" text-anchor="start" fill="#000" >HSDM</text>
<rect x="2511.5" y="1091.4" width="869.3" height="699.4" fill="none" stroke="#000" stroke-width="4" />
<line x1="2498" y1="1790.6" x2="2511.5" y2="1790.6" stroke="#000" stroke-width="3.6" />
<text x="2488.7" y="1810.1" font-size="60" text-anchor="end" fill="#000" >0</text>
<line x1="2504.5" y1="1720.68" x2="2511.5" y2="1720.68" stroke="#000" stroke-width="3.6" />
<line x1="2498" y1="1650.76" x2="2511.5" y2="1650.76" stroke="#000" stroke-width="3.6" />
<text x="2488.7" y="1670.26" font-size="60" text-anchor="end" fill="#000" >2</text>
<line x1="2504.5" y1="1580.84" x2="2511.5" y2="1580.84" stroke="#000" stroke-width="3.6" />
<line x1="2498" y1="1510.92" x2="2511.5" y2="1510.92" stroke="#000" stroke-width="3.6" />
<text x="2488.7" y="1530.42" font-size="60" text-anchor="end" fill="#000" >4</text>
<line x1="2504.5" y1="1441" x2="2511.5" y2="1441" stroke="#000" stroke-width="3.6" />
<line x1="2498" y1="1371.08" x2="2511.5" y2="1371.08" stroke="#000" stroke-width="3.6" />
<text x="2488.7" y="1390.58" font-size="60" text-anchor="end" fill="#000" >6</text>
<line x1="2504.5" y1="1301.16" x2="2511.5" y2="1301.16" stroke="#000" stroke-width="3.6" />
<line x1="2498" y1="1231.24" x2="2511.5" y2="1231.24" stroke="#000" stroke-width="3.6" />
<text x="2488.7" y="1250.74" font-size="60" text-anchor="end" fill="#000" >8</text>
<line x1="2504.5" y1="1161.32" x2="2511.5" y2="1161.32" stroke="#000" stroke-width="3.6" />
<line x1="2498" y1="1091.4" x2="2511.5" y2="1091.4" stroke="#000" stroke-width="3.6" />
<text x="2488.7" y="1110.9" font-size="60" text-anchor="end" fill="#000" >10</text>
<line x1="2554.1" y1="1790.8" x2="2554.1" y2="1804.3" stroke="#000" stroke-width="3.6" />
<text x="2554.1" y="1861" font-size="60" text-anchor="middle" fill="#000" >0</text>
<line x1="2619.38" y1="1790.8" x2="2619.38" y2="1797.8" stroke="#000" stroke-width="3.6" />
<line x1="2684.65" y1="1790.8" x2="2684.65" y2="1804.3" stroke="#000" stroke-width="3.6" />
<text x="2684.65" y="1861" font-size="60" text-anchor="middle" fill="#000" >30</text>
<line x1="2749.93" y1="1790.8" x2="2749.93" y2="1797.8" stroke="#000" stroke-width="3.6" />
<line x1="2815.2" y1="1790.8" x2="2815.2" y2="1804.3" stroke="#000" stroke-width="3.6" />
<text x="2815.2" y="1861" font-size="60" text-anchor="middle" fill="#000" >60</text>
<line x1="2880.48" y1="1790.8" x2="2880.48" y2="1797.8" stroke="#000" stroke-width="3.6" />
<line x1="2945.75" y1="1790.8" x2="2945.75" y2="1804.3" stroke="#000" stroke-width="3.6" />
<text x="2945.75" y="1861" font-size="60" text-anchor="middle" fill="#000" >90</text>
<line x1="3011.03" y1="1790.8" x2="3011.03" y2="1797.8" stroke="#000" stroke-width="3.6" />
<line x1="3076.3" y1="1790.8" x2="3076.3" y2="1804.3" stroke="#000" stroke-width="3.6" />
<text x="3076.3" y="1861" font-size="60" text-anchor="middle" fill="#000" >120</text>
<line x1="3141.58" y1="1790.8" x2="3141.58" y2="1797.8" stroke="#000" stroke-width="3.6" />
<line x1="3206.86" y1="1790.8" x2="3206.86" y2="1804.3" stroke="#000" stroke-width="3.6" />
<text x="3206.86" y="1861" font-size="60" text-anchor="middle" fill="#000" >150</text>
<line x1="3272.13" y1="1790.8" x2="3272.13" y2="1797.8" stroke="#000" stroke-width="3.6" />
<line x1="3337.41" y1="1790.8" x2="3337.41" y2="1804.3" stroke="#000" stroke-width="3.6" />
<text x="3337.41" y="1861" font-size="60" text-anchor="middle" fill="#000" >180</text>
<text x="2401.5" y="1444" font-size="60.2" text-anchor="middle" fill="#000" transform="rotate(-90 2401.5 1444)" >PFOA concentration (&#956;g L<tspan font-size="37.32" baseline-shift="24.08">-1</tspan>)</text>
<clipPath id="dclip2"><rect x="2700" y="1870" width="500" height="69.3"/></clipPath>
<g clip-path="url(#dclip2)"><text x="2946.2" y="1938.3" font-size="60.5" text-anchor="middle" fill="#000" >Time (min)</text></g>
<text x="70.5" y="2109" font-size="107" text-anchor="start" fill="#000" >e</text>
<rect x="265.5" y="2050.6" width="104.3" height="63.3" fill="url(#eL1)" stroke="#1a1a1a" stroke-width="3" />
<text x="403.5" y="2101.7" font-size="59" text-anchor="start" fill="#000" >UiO-66-<tspan font-style="italic">L</tspan><tspan font-size="40.12" baseline-shift="-15.93">1</tspan></text>
<rect x="696.5" y="2050.6" width="104.3" height="63.3" fill="url(#eL2)" stroke="#1a1a1a" stroke-width="3" />
<text x="836.5" y="2101.7" font-size="59" text-anchor="start" fill="#000" >UiO-66-<tspan font-style="italic">L</tspan><tspan font-size="40.12" baseline-shift="-15.93">2</tspan></text>
<g><rect x="272.8" y="2756.5" width="46.8" height="74.4" fill="url(#eL1)" stroke="#111" stroke-width="3.3" /><rect x="335.6" y="2785.97" width="46.8" height="44.93" fill="url(#eL2)" stroke="#111" stroke-width="3.3" /><rect x="398.4" y="2662.22" width="46.8" height="168.68" fill="url(#eL3)" stroke="#111" stroke-width="3.3" /><rect x="491.1" y="2803.94" width="46.8" height="26.96" fill="url(#eL1)" stroke="#111" stroke-width="3.3" /><rect x="553.9" y="2760.52" width="46.8" height="70.38" fill="url(#eL2)" stroke="#111" stroke-width="3.3" /><rect x="616.7" y="2267.79" width="46.8" height="563.11" fill="url(#eL3)" stroke="#111" stroke-width="3.3" /><rect x="709.4" y="2750.06" width="46.8" height="80.84" fill="url(#eL1)" stroke="#111" stroke-width="3.3" /><rect x="772.2" y="2702.69" width="46.8" height="128.21" fill="url(#eL2)" stroke="#111" stroke-width="3.3" /><rect x="835" y="2198.89" width="46.8" height="632.01" fill="url(#eL3)" stroke="#111" stroke-width="3.3" /><rect x="927.7" y="2784.05" width="46.8" height="46.85" fill="url(#eL1)" stroke="#111" stroke-width="3.3" /><rect x="990.5" y="2739.13" width="46.8" height="91.77" fill="url(#eL2)" stroke="#111" stroke-width="3.3" /><rect x="1053.3" y="2536.91" width="46.8" height="293.99" fill="url(#eL3)" stroke="#111" stroke-width="3.3" /></g>
<rect x="249" y="2125.5" width="875.7" height="705.4" fill="none" stroke="#000" stroke-width="4" />
<rect x="265.5" y="2136.6" width="104.3" height="64" fill="url(#eL3)" stroke="#1a1a1a" stroke-width="3" />
<text x="403.5" y="2188.6" font-size="59" text-anchor="start" fill="#000" >UiO-66-<tspan font-style="italic">L</tspan><tspan font-size="40.12" baseline-shift="-15.93">3</tspan></text>
<line x1="276.8" y1="2660.6" x2="396.5" y2="2660.6" stroke="#111" stroke-width="4.2" stroke-dasharray="19 8"/>
<line x1="271" y1="2753.8" x2="385" y2="2753.8" stroke="#111" stroke-width="4.2" stroke-dasharray="19 8"/>
<line x1="338.8" y1="2658.6" x2="338.8" y2="2755.8" stroke="#111" stroke-width="4.4" />
<line x1="496.9" y1="2266.2" x2="616.8" y2="2266.2" stroke="#111" stroke-width="4.2" stroke-dasharray="19 8"/>
<line x1="496.9" y1="2757.9" x2="619.7" y2="2757.9" stroke="#111" stroke-width="4.2" stroke-dasharray="19 8"/>
<line x1="557.7" y1="2264.2" x2="557.7" y2="2759.9" stroke="#111" stroke-width="4.4" />
<line x1="711.2" y1="2197.9" x2="834" y2="2197.9" stroke="#111" stroke-width="4.2" stroke-dasharray="19 8"/>
<line x1="711.2" y1="2698.8" x2="834" y2="2698.8" stroke="#111" stroke-width="4.2" stroke-dasharray="19 8"/>
<line x1="773.2" y1="2195.9" x2="773.2" y2="2700.8" stroke="#111" stroke-width="4.4" />
<line x1="930.7" y1="2536.7" x2="1052.9" y2="2536.7" stroke="#111" stroke-width="4.2" stroke-dasharray="19 8"/>
<line x1="930.7" y1="2736.5" x2="1052.9" y2="2736.5" stroke="#111" stroke-width="4.2" stroke-dasharray="19 8"/>
<line x1="990.3" y1="2534.7" x2="990.3" y2="2738.5" stroke="#111" stroke-width="4.4" />
<text x="276.8" y="2645" font-size="49" text-anchor="start" fill="#000" >3.3-fold</text>
<text x="496.9" y="2252.3" font-size="49" text-anchor="start" fill="#000" >490-fold</text>
<text x="713.5" y="2187.4" font-size="49" text-anchor="start" fill="#000" >553-fold</text>
<text x="929.5" y="2526.2" font-size="49" text-anchor="start" fill="#000" >12.7-fold</text>
<line x1="242" y1="2831.07" x2="249" y2="2831.07" stroke="#000" stroke-width="3.4" />
<line x1="242" y1="2808.04" x2="249" y2="2808.04" stroke="#000" stroke-width="3.4" />
<line x1="242" y1="2790.18" x2="249" y2="2790.18" stroke="#000" stroke-width="3.4" />
<line x1="242" y1="2775.59" x2="249" y2="2775.59" stroke="#000" stroke-width="3.4" />
<line x1="242" y1="2763.25" x2="249" y2="2763.25" stroke="#000" stroke-width="3.4" />
<line x1="242" y1="2752.56" x2="249" y2="2752.56" stroke="#000" stroke-width="3.4" />
<line x1="242" y1="2743.13" x2="249" y2="2743.13" stroke="#000" stroke-width="3.4" />
<line x1="235.5" y1="2734.7" x2="249" y2="2734.7" stroke="#000" stroke-width="3.4" />
<line x1="242" y1="2679.22" x2="249" y2="2679.22" stroke="#000" stroke-width="3.4" />
<line x1="242" y1="2646.77" x2="249" y2="2646.77" stroke="#000" stroke-width="3.4" />
<line x1="242" y1="2623.74" x2="249" y2="2623.74" stroke="#000" stroke-width="3.4" />
<line x1="242" y1="2605.88" x2="249" y2="2605.88" stroke="#000" stroke-width="3.4" />
<line x1="242" y1="2591.29" x2="249" y2="2591.29" stroke="#000" stroke-width="3.4" />
<line x1="242" y1="2578.95" x2="249" y2="2578.95" stroke="#000" stroke-width="3.4" />
<line x1="242" y1="2568.26" x2="249" y2="2568.26" stroke="#000" stroke-width="3.4" />
<line x1="242" y1="2558.83" x2="249" y2="2558.83" stroke="#000" stroke-width="3.4" />
<text x="226.5" y="2753.3" font-size="57" text-anchor="end" fill="#000" >10<tspan font-size="41.04" baseline-shift="23.94">1</tspan></text>
<line x1="235.5" y1="2550.4" x2="249" y2="2550.4" stroke="#000" stroke-width="3.4" />
<line x1="242" y1="2494.92" x2="249" y2="2494.92" stroke="#000" stroke-width="3.4" />
<line x1="242" y1="2462.47" x2="249" y2="2462.47" stroke="#000" stroke-width="3.4" />
<line x1="242" y1="2439.44" x2="249" y2="2439.44" stroke="#000" stroke-width="3.4" />
<line x1="242" y1="2421.58" x2="249" y2="2421.58" stroke="#000" stroke-width="3.4" />
<line x1="242" y1="2406.99" x2="249" y2="2406.99" stroke="#000" stroke-width="3.4" />
<line x1="242" y1="2394.65" x2="249" y2="2394.65" stroke="#000" stroke-width="3.4" />
<line x1="242" y1="2383.96" x2="249" y2="2383.96" stroke="#000" stroke-width="3.4" />
<line x1="242" y1="2374.53" x2="249" y2="2374.53" stroke="#000" stroke-width="3.4" />
<text x="226.5" y="2569" font-size="57" text-anchor="end" fill="#000" >10<tspan font-size="41.04" baseline-shift="23.94">2</tspan></text>
<line x1="235.5" y1="2366.1" x2="249" y2="2366.1" stroke="#000" stroke-width="3.4" />
<line x1="242" y1="2310.62" x2="249" y2="2310.62" stroke="#000" stroke-width="3.4" />
<line x1="242" y1="2278.17" x2="249" y2="2278.17" stroke="#000" stroke-width="3.4" />
<line x1="242" y1="2255.14" x2="249" y2="2255.14" stroke="#000" stroke-width="3.4" />
<line x1="242" y1="2237.28" x2="249" y2="2237.28" stroke="#000" stroke-width="3.4" />
<line x1="242" y1="2222.69" x2="249" y2="2222.69" stroke="#000" stroke-width="3.4" />
<line x1="242" y1="2210.35" x2="249" y2="2210.35" stroke="#000" stroke-width="3.4" />
<line x1="242" y1="2199.66" x2="249" y2="2199.66" stroke="#000" stroke-width="3.4" />
<line x1="242" y1="2190.23" x2="249" y2="2190.23" stroke="#000" stroke-width="3.4" />
<text x="226.5" y="2384.7" font-size="57" text-anchor="end" fill="#000" >10<tspan font-size="41.04" baseline-shift="23.94">3</tspan></text>
<line x1="235.5" y1="2181.8" x2="249" y2="2181.8" stroke="#000" stroke-width="3.4" />
<line x1="242" y1="2126.32" x2="249" y2="2126.32" stroke="#000" stroke-width="3.4" />
<text x="226.5" y="2200.4" font-size="57" text-anchor="end" fill="#000" >10<tspan font-size="41.04" baseline-shift="23.94">4</tspan></text>
<line x1="359" y1="2830.9" x2="359" y2="2844.4" stroke="#000" stroke-width="3.6" />
<text x="359" y="2918.3" font-size="60" text-anchor="middle" fill="#000" >PFOA</text>
<line x1="577.3" y1="2830.9" x2="577.3" y2="2844.4" stroke="#000" stroke-width="3.6" />
<text x="577.3" y="2918.3" font-size="60" text-anchor="middle" fill="#000" >PFOS</text>
<line x1="795.6" y1="2830.9" x2="795.6" y2="2844.4" stroke="#000" stroke-width="3.6" />
<text x="795.6" y="2918.3" font-size="60" text-anchor="middle" fill="#000" >F-53B</text>
<line x1="1013.9" y1="2830.9" x2="1013.9" y2="2844.4" stroke="#000" stroke-width="3.6" />
<text x="1013.9" y="2918.3" font-size="60" text-anchor="middle" fill="#000" >6:2 FTS</text>
<text x="106.2" y="2478" font-size="61.3" text-anchor="middle" fill="#000" transform="rotate(-90 106.2 2478)" >D<tspan font-size="40.46" baseline-shift="-15.32">s</tspan> (&#215;10<tspan font-size="40.46" baseline-shift="24.52">-15</tspan> m<tspan font-size="40.46" baseline-shift="24.52">2</tspan> s<tspan font-size="40.46" baseline-shift="24.52">-1</tspan>)</text>
<text x="1215" y="2107.5" font-size="107" text-anchor="start" fill="#000" >f</text>
<rect x="1425.7" y="1997.6" width="69.6" height="57.3" fill="url(#f2)" stroke="#1a1a1a" stroke-width="3" />
<text x="1533.5" y="2044.6" font-size="52.5" text-anchor="start" fill="#000" >pH 2</text>
<rect x="1669.1" y="1997.6" width="69.6" height="57.3" fill="url(#f4)" stroke="#1a1a1a" stroke-width="3" />
<text x="1776.7" y="2044.6" font-size="52.5" text-anchor="start" fill="#000" >pH 4</text>
<rect x="1941.7" y="1997.6" width="69.6" height="57.3" fill="url(#f6)" stroke="#1a1a1a" stroke-width="3" />
<text x="2050" y="2044.6" font-size="52.5" text-anchor="start" fill="#000" >pH 6</text>
<rect x="1425.7" y="2062.2" width="69.6" height="57.3" fill="url(#f8)" stroke="#1a1a1a" stroke-width="3" />
<text x="1533.5" y="2108.7" font-size="52.5" text-anchor="start" fill="#000" >pH 8</text>
<rect x="1669.1" y="2062.2" width="69.6" height="57.3" fill="url(#f10)" stroke="#1a1a1a" stroke-width="3" />
<text x="1776.7" y="2108.7" font-size="52.5" text-anchor="start" fill="#000" >pH 10</text>
<rect x="1941.7" y="2062.2" width="69.6" height="57.3" fill="url(#f12)" stroke="#1a1a1a" stroke-width="3" />
<text x="2050" y="2108.7" font-size="52.5" text-anchor="start" fill="#000" >pH 12</text>
<g><rect x="1387.85" y="2331.71" width="20.8" height="499.19" fill="url(#f2)" stroke="#111" stroke-width="3.4" /><line x1="1398.25" y1="2314.36" x2="1398.25" y2="2346.25" stroke="#111" stroke-width="3.4" /><line x1="1390.35" y1="2314.36" x2="1406.15" y2="2314.36" stroke="#111" stroke-width="3.4" /><line x1="1390.35" y1="2346.25" x2="1406.15" y2="2346.25" stroke="#111" stroke-width="3.4" /><rect x="1418.95" y="2237.96" width="20.8" height="592.94" fill="url(#f4)" stroke="#111" stroke-width="3.4" /><line x1="1429.35" y1="2217.43" x2="1429.35" y2="2255.69" stroke="#111" stroke-width="3.4" /><line x1="1421.45" y1="2217.43" x2="1437.25" y2="2217.43" stroke="#111" stroke-width="3.4" /><line x1="1421.45" y1="2255.69" x2="1437.25" y2="2255.69" stroke="#111" stroke-width="3.4" /><rect x="1450.05" y="2194.6" width="20.8" height="636.3" fill="url(#f6)" stroke="#111" stroke-width="3.4" /><rect x="1481.15" y="2296.63" width="20.8" height="534.27" fill="url(#f8)" stroke="#111" stroke-width="3.4" /><line x1="1491.55" y1="2263.35" x2="1491.55" y2="2327.12" stroke="#111" stroke-width="3.4" /><line x1="1483.65" y1="2263.35" x2="1499.45" y2="2263.35" stroke="#111" stroke-width="3.4" /><line x1="1483.65" y1="2327.12" x2="1499.45" y2="2327.12" stroke="#111" stroke-width="3.4" /><rect x="1512.25" y="2240.51" width="20.8" height="590.39" fill="url(#f10)" stroke="#111" stroke-width="3.4" /><line x1="1522.65" y1="2210.42" x2="1522.65" y2="2267.81" stroke="#111" stroke-width="3.4" /><line x1="1514.75" y1="2210.42" x2="1530.55" y2="2210.42" stroke="#111" stroke-width="3.4" /><line x1="1514.75" y1="2267.81" x2="1530.55" y2="2267.81" stroke="#111" stroke-width="3.4" /><rect x="1543.35" y="2325.97" width="20.8" height="504.93" fill="url(#f12)" stroke="#111" stroke-width="3.4" /><line x1="1553.75" y1="2321.38" x2="1553.75" y2="2327.75" stroke="#111" stroke-width="3.4" /><line x1="1545.85" y1="2321.38" x2="1561.65" y2="2321.38" stroke="#111" stroke-width="3.4" /><line x1="1545.85" y1="2327.75" x2="1561.65" y2="2327.75" stroke="#111" stroke-width="3.4" /><rect x="1610.05" y="2231.59" width="20.8" height="599.31" fill="url(#f2)" stroke="#111" stroke-width="3.4" /><line x1="1620.45" y1="2196.39" x2="1620.45" y2="2263.98" stroke="#111" stroke-width="3.4" /><line x1="1612.55" y1="2196.39" x2="1628.35" y2="2196.39" stroke="#111" stroke-width="3.4" /><line x1="1612.55" y1="2263.98" x2="1628.35" y2="2263.98" stroke="#111" stroke-width="3.4" /><rect x="1641.15" y="2199.7" width="20.8" height="631.2" fill="url(#f4)" stroke="#111" stroke-width="3.4" /><line x1="1651.55" y1="2191.92" x2="1651.55" y2="2204.68" stroke="#111" stroke-width="3.4" /><line x1="1643.65" y1="2191.92" x2="1659.45" y2="2191.92" stroke="#111" stroke-width="3.4" /><line x1="1643.65" y1="2204.68" x2="1659.45" y2="2204.68" stroke="#111" stroke-width="3.4" /><rect x="1672.25" y="2223.3" width="20.8" height="607.6" fill="url(#f6)" stroke="#111" stroke-width="3.4" /><line x1="1682.65" y1="2209.14" x2="1682.65" y2="2234.65" stroke="#111" stroke-width="3.4" /><line x1="1674.75" y1="2209.14" x2="1690.55" y2="2209.14" stroke="#111" stroke-width="3.4" /><line x1="1674.75" y1="2234.65" x2="1690.55" y2="2234.65" stroke="#111" stroke-width="3.4" /><rect x="1703.35" y="2221.38" width="20.8" height="609.52" fill="url(#f8)" stroke="#111" stroke-width="3.4" /><line x1="1713.75" y1="2212.33" x2="1713.75" y2="2227.64" stroke="#111" stroke-width="3.4" /><line x1="1705.85" y1="2212.33" x2="1721.65" y2="2212.33" stroke="#111" stroke-width="3.4" /><line x1="1705.85" y1="2227.64" x2="1721.65" y2="2227.64" stroke="#111" stroke-width="3.4" /><rect x="1734.45" y="2221.38" width="20.8" height="609.52" fill="url(#f10)" stroke="#111" stroke-width="3.4" /><line x1="1744.85" y1="2213.61" x2="1744.85" y2="2226.36" stroke="#111" stroke-width="3.4" /><line x1="1736.95" y1="2213.61" x2="1752.75" y2="2213.61" stroke="#111" stroke-width="3.4" /><line x1="1736.95" y1="2226.36" x2="1752.75" y2="2226.36" stroke="#111" stroke-width="3.4" /><rect x="1765.55" y="2260.28" width="20.8" height="570.62" fill="url(#f12)" stroke="#111" stroke-width="3.4" /><line x1="1775.95" y1="2238.48" x2="1775.95" y2="2279.29" stroke="#111" stroke-width="3.4" /><line x1="1768.05" y1="2238.48" x2="1783.85" y2="2238.48" stroke="#111" stroke-width="3.4" /><line x1="1768.05" y1="2279.29" x2="1783.85" y2="2279.29" stroke="#111" stroke-width="3.4" /><rect x="1832.25" y="2194.6" width="20.8" height="636.3" fill="url(#f2)" stroke="#111" stroke-width="3.4" /><rect x="1863.35" y="2194.6" width="20.8" height="636.3" fill="url(#f4)" stroke="#111" stroke-width="3.4" /><rect x="1894.45" y="2194.6" width="20.8" height="636.3" fill="url(#f6)" stroke="#111" stroke-width="3.4" /><rect x="1925.55" y="2194.6" width="20.8" height="636.3" fill="url(#f8)" stroke="#111" stroke-width="3.4" /><rect x="1956.65" y="2194.6" width="20.8" height="636.3" fill="url(#f10)" stroke="#111" stroke-width="3.4" /><rect x="1987.75" y="2194.6" width="20.8" height="636.3" fill="url(#f12)" stroke="#111" stroke-width="3.4" /><rect x="2054.45" y="2217.56" width="20.8" height="613.34" fill="url(#f2)" stroke="#111" stroke-width="3.4" /><line x1="2064.85" y1="2209.14" x2="2064.85" y2="2223.17" stroke="#111" stroke-width="3.4" /><line x1="2056.95" y1="2209.14" x2="2072.75" y2="2209.14" stroke="#111" stroke-width="3.4" /><line x1="2056.95" y1="2223.17" x2="2072.75" y2="2223.17" stroke="#111" stroke-width="3.4" /><rect x="2085.55" y="2194.6" width="20.8" height="636.3" fill="url(#f4)" stroke="#111" stroke-width="3.4" /><rect x="2116.65" y="2194.6" width="20.8" height="636.3" fill="url(#f6)" stroke="#111" stroke-width="3.4" /><rect x="2147.75" y="2194.6" width="20.8" height="636.3" fill="url(#f8)" stroke="#111" stroke-width="3.4" /><rect x="2178.85" y="2194.6" width="20.8" height="636.3" fill="url(#f10)" stroke="#111" stroke-width="3.4" /><rect x="2209.95" y="2229.04" width="20.8" height="601.86" fill="url(#f12)" stroke="#111" stroke-width="3.4" /><line x1="2220.35" y1="2207.23" x2="2220.35" y2="2248.04" stroke="#111" stroke-width="3.4" /><line x1="2212.45" y1="2207.23" x2="2228.25" y2="2207.23" stroke="#111" stroke-width="3.4" /><line x1="2212.45" y1="2248.04" x2="2228.25" y2="2248.04" stroke="#111" stroke-width="3.4" /></g>
<rect x="1364.3" y="2130.1" width="891.9" height="700.8" fill="none" stroke="#000" stroke-width="4" />
<line x1="1350.8" y1="2830.9" x2="1364.3" y2="2830.9" stroke="#000" stroke-width="3.6" />
<text x="1340.9" y="2847.3" font-size="58.5" text-anchor="end" fill="#000" >0</text>
<line x1="1357.3" y1="2767.13" x2="1364.3" y2="2767.13" stroke="#000" stroke-width="3.6" />
<line x1="1350.8" y1="2703.36" x2="1364.3" y2="2703.36" stroke="#000" stroke-width="3.6" />
<text x="1340.9" y="2719.76" font-size="58.5" text-anchor="end" fill="#000" >20</text>
<line x1="1357.3" y1="2639.59" x2="1364.3" y2="2639.59" stroke="#000" stroke-width="3.6" />
<line x1="1350.8" y1="2575.82" x2="1364.3" y2="2575.82" stroke="#000" stroke-width="3.6" />
<text x="1340.9" y="2592.22" font-size="58.5" text-anchor="end" fill="#000" >40</text>
<line x1="1357.3" y1="2512.05" x2="1364.3" y2="2512.05" stroke="#000" stroke-width="3.6" />
<line x1="1350.8" y1="2448.28" x2="1364.3" y2="2448.28" stroke="#000" stroke-width="3.6" />
<text x="1340.9" y="2464.68" font-size="58.5" text-anchor="end" fill="#000" >60</text>
<line x1="1357.3" y1="2384.51" x2="1364.3" y2="2384.51" stroke="#000" stroke-width="3.6" />
<line x1="1350.8" y1="2320.74" x2="1364.3" y2="2320.74" stroke="#000" stroke-width="3.6" />
<text x="1340.9" y="2337.14" font-size="58.5" text-anchor="end" fill="#000" >80</text>
<line x1="1357.3" y1="2256.97" x2="1364.3" y2="2256.97" stroke="#000" stroke-width="3.6" />
<line x1="1350.8" y1="2193.2" x2="1364.3" y2="2193.2" stroke="#000" stroke-width="3.6" />
<text x="1340.9" y="2209.6" font-size="58.5" text-anchor="end" fill="#000" >100</text>
<line x1="1476" y1="2830.9" x2="1476" y2="2844.4" stroke="#000" stroke-width="3.6" />
<text x="1476" y="2899.8" font-size="60" text-anchor="middle" fill="#000" >PFOA</text>
<line x1="1698.2" y1="2830.9" x2="1698.2" y2="2844.4" stroke="#000" stroke-width="3.6" />
<text x="1698.2" y="2899.8" font-size="60" text-anchor="middle" fill="#000" >PFOS</text>
<line x1="1920.4" y1="2830.9" x2="1920.4" y2="2844.4" stroke="#000" stroke-width="3.6" />
<text x="1920.4" y="2899.8" font-size="60" text-anchor="middle" fill="#000" >F-53B</text>
<line x1="2142.6" y1="2830.9" x2="2142.6" y2="2844.4" stroke="#000" stroke-width="3.6" />
<text x="2142.6" y="2899.8" font-size="60" text-anchor="middle" fill="#000" >6:2FTS</text>
<text x="1259.7" y="2498.5" font-size="61.6" text-anchor="middle" fill="#000" transform="rotate(-90 1259.7 2498.5)" >PFAS removal(%)</text>
<text x="2329" y="2108" font-size="107" text-anchor="start" fill="#000" >g</text>
<rect x="2426" y="1979.2" width="69.3" height="56.8" fill="url(#gCl)" stroke="#1a1a1a" stroke-width="3" />
<text x="2532.57" y="2025" font-size="51.5" text-anchor="start" fill="#000" >Cl<tspan font-size="33.99" baseline-shift="18.54">-</tspan></text>
<rect x="2620.3" y="1979.2" width="69.3" height="56.8" fill="url(#gSO)" stroke="#1a1a1a" stroke-width="3" />
<text x="2726.38" y="2025" font-size="51.5" text-anchor="start" fill="#000" >SO<tspan font-size="33.99" baseline-shift="-12.36">4</tspan><tspan font-size="33.99" baseline-shift="18.54">2-</tspan></text>
<rect x="2879.8" y="1979.2" width="69.3" height="56.8" fill="url(#gNO)" stroke="#1a1a1a" stroke-width="3" />
<text x="2986.88" y="2025" font-size="51.5" text-anchor="start" fill="#000" >NO<tspan font-size="33.99" baseline-shift="-12.36">3</tspan><tspan font-size="33.99" baseline-shift="18.54">-</tspan></text>
<rect x="3123.2" y="1979.2" width="69.3" height="56.8" fill="url(#gHC)" stroke="#1a1a1a" stroke-width="3" />
<text x="3229.08" y="2025" font-size="51.5" text-anchor="start" fill="#000" >HCO<tspan font-size="33.99" baseline-shift="-12.36">3</tspan><tspan font-size="33.99" baseline-shift="18.54">-</tspan></text>
<rect x="2426" y="2062.6" width="69.3" height="56.8" fill="url(#gCr)" stroke="#1a1a1a" stroke-width="3" />
<text x="2532.57" y="2108.6" font-size="51.5" text-anchor="start" fill="#000" >CrO<tspan font-size="33.99" baseline-shift="-12.36">4</tspan><tspan font-size="33.99" baseline-shift="18.54">2-</tspan></text>
<rect x="2706.8" y="2062.6" width="69.3" height="56.8" fill="url(#gClO)" stroke="#1a1a1a" stroke-width="3" />
<text x="2813.77" y="2108.6" font-size="51.5" text-anchor="start" fill="#000" >ClO<tspan font-size="33.99" baseline-shift="-12.36">4</tspan><tspan font-size="33.99" baseline-shift="18.54">-</tspan></text>
<rect x="2961.7" y="2062.6" width="69.3" height="56.8" fill="url(#gHA)" stroke="#1a1a1a" stroke-width="3" />
<text x="3069.08" y="2108.6" font-size="51.5" text-anchor="start" fill="#000" >HA</text>
<g><rect x="2534.35" y="2230.22" width="17.5" height="600.48" fill="url(#gCl)" stroke="#111" stroke-width="3.2" /><line x1="2543.1" y1="2179.89" x2="2543.1" y2="2277.96" stroke="#111" stroke-width="3.2" /><line x1="2535.6" y1="2179.89" x2="2550.6" y2="2179.89" stroke="#111" stroke-width="3.2" /><line x1="2535.6" y1="2277.96" x2="2550.6" y2="2277.96" stroke="#111" stroke-width="3.2" /><rect x="2560.25" y="2274.8" width="17.5" height="555.9" fill="url(#gSO)" stroke="#111" stroke-width="3.2" /><line x1="2569" y1="2183.07" x2="2569" y2="2363.93" stroke="#111" stroke-width="3.2" /><line x1="2561.5" y1="2183.07" x2="2576.5" y2="2183.07" stroke="#111" stroke-width="3.2" /><line x1="2561.5" y1="2363.93" x2="2576.5" y2="2363.93" stroke="#111" stroke-width="3.2" /><rect x="2586.15" y="2211.12" width="17.5" height="619.58" fill="url(#gNO)" stroke="#111" stroke-width="3.2" /><line x1="2594.9" y1="2198.36" x2="2594.9" y2="2221.28" stroke="#111" stroke-width="3.2" /><line x1="2587.4" y1="2198.36" x2="2602.4" y2="2198.36" stroke="#111" stroke-width="3.2" /><line x1="2587.4" y1="2221.28" x2="2602.4" y2="2221.28" stroke="#111" stroke-width="3.2" /><rect x="2612.05" y="2330.2" width="17.5" height="500.5" fill="url(#gHC)" stroke="#111" stroke-width="3.2" /><line x1="2620.8" y1="2285.6" x2="2620.8" y2="2372.2" stroke="#111" stroke-width="3.2" /><line x1="2613.3" y1="2285.6" x2="2628.3" y2="2285.6" stroke="#111" stroke-width="3.2" /><line x1="2613.3" y1="2372.2" x2="2628.3" y2="2372.2" stroke="#111" stroke-width="3.2" /><rect x="2637.95" y="2412.99" width="17.5" height="417.71" fill="url(#gCr)" stroke="#111" stroke-width="3.2" /><line x1="2646.7" y1="2404.04" x2="2646.7" y2="2419.33" stroke="#111" stroke-width="3.2" /><line x1="2639.2" y1="2404.04" x2="2654.2" y2="2404.04" stroke="#111" stroke-width="3.2" /><line x1="2639.2" y1="2419.33" x2="2654.2" y2="2419.33" stroke="#111" stroke-width="3.2" /><rect x="2663.85" y="2345.48" width="17.5" height="485.22" fill="url(#gClO)" stroke="#111" stroke-width="3.2" /><line x1="2672.6" y1="2317.44" x2="2672.6" y2="2370.93" stroke="#111" stroke-width="3.2" /><line x1="2665.1" y1="2317.44" x2="2680.1" y2="2317.44" stroke="#111" stroke-width="3.2" /><line x1="2665.1" y1="2370.93" x2="2680.1" y2="2370.93" stroke="#111" stroke-width="3.2" /><rect x="2689.75" y="2195.2" width="17.5" height="635.5" fill="url(#gHA)" stroke="#111" stroke-width="3.2" /><rect x="2751.75" y="2218.12" width="17.5" height="612.58" fill="url(#gCl)" stroke="#111" stroke-width="3.2" /><line x1="2760.5" y1="2186.26" x2="2760.5" y2="2247.39" stroke="#111" stroke-width="3.2" /><line x1="2753" y1="2186.26" x2="2768" y2="2186.26" stroke="#111" stroke-width="3.2" /><line x1="2753" y1="2247.39" x2="2768" y2="2247.39" stroke="#111" stroke-width="3.2" /><rect x="2777.65" y="2265.25" width="17.5" height="565.45" fill="url(#gSO)" stroke="#111" stroke-width="3.2" /><line x1="2786.4" y1="2244.84" x2="2786.4" y2="2283.05" stroke="#111" stroke-width="3.2" /><line x1="2778.9" y1="2244.84" x2="2793.9" y2="2244.84" stroke="#111" stroke-width="3.2" /><line x1="2778.9" y1="2283.05" x2="2793.9" y2="2283.05" stroke="#111" stroke-width="3.2" /><rect x="2803.55" y="2204.75" width="17.5" height="625.95" fill="url(#gNO)" stroke="#111" stroke-width="3.2" /><line x1="2812.3" y1="2188.17" x2="2812.3" y2="2218.74" stroke="#111" stroke-width="3.2" /><line x1="2804.8" y1="2188.17" x2="2819.8" y2="2188.17" stroke="#111" stroke-width="3.2" /><line x1="2804.8" y1="2218.74" x2="2819.8" y2="2218.74" stroke="#111" stroke-width="3.2" /><rect x="2829.45" y="2317.47" width="17.5" height="513.23" fill="url(#gHC)" stroke="#111" stroke-width="3.2" /><line x1="2838.2" y1="2281.14" x2="2838.2" y2="2351.19" stroke="#111" stroke-width="3.2" /><line x1="2830.7" y1="2281.14" x2="2845.7" y2="2281.14" stroke="#111" stroke-width="3.2" /><line x1="2830.7" y1="2351.19" x2="2845.7" y2="2351.19" stroke="#111" stroke-width="3.2" /><rect x="2855.35" y="2365.86" width="17.5" height="464.84" fill="url(#gCr)" stroke="#111" stroke-width="3.2" /><line x1="2864.1" y1="2357.56" x2="2864.1" y2="2371.57" stroke="#111" stroke-width="3.2" /><line x1="2856.6" y1="2357.56" x2="2871.6" y2="2357.56" stroke="#111" stroke-width="3.2" /><line x1="2856.6" y1="2371.57" x2="2871.6" y2="2371.57" stroke="#111" stroke-width="3.2" /><rect x="2881.25" y="2276.71" width="17.5" height="553.99" fill="url(#gClO)" stroke="#111" stroke-width="3.2" /><line x1="2890" y1="2248.03" x2="2890" y2="2302.79" stroke="#111" stroke-width="3.2" /><line x1="2882.5" y1="2248.03" x2="2897.5" y2="2248.03" stroke="#111" stroke-width="3.2" /><line x1="2882.5" y1="2302.79" x2="2897.5" y2="2302.79" stroke="#111" stroke-width="3.2" /><rect x="2907.15" y="2269.71" width="17.5" height="560.99" fill="url(#gHA)" stroke="#111" stroke-width="3.2" /><line x1="2915.9" y1="2262.67" x2="2915.9" y2="2274.14" stroke="#111" stroke-width="3.2" /><line x1="2908.4" y1="2262.67" x2="2923.4" y2="2262.67" stroke="#111" stroke-width="3.2" /><line x1="2908.4" y1="2274.14" x2="2923.4" y2="2274.14" stroke="#111" stroke-width="3.2" /><rect x="2969.15" y="2195.2" width="17.5" height="635.5" fill="url(#gCl)" stroke="#111" stroke-width="3.2" /><rect x="2995.05" y="2195.2" width="17.5" height="635.5" fill="url(#gSO)" stroke="#111" stroke-width="3.2" /><rect x="3020.95" y="2195.2" width="17.5" height="635.5" fill="url(#gNO)" stroke="#111" stroke-width="3.2" /><rect x="3046.85" y="2195.2" width="17.5" height="635.5" fill="url(#gHC)" stroke="#111" stroke-width="3.2" /><rect x="3072.75" y="2195.2" width="17.5" height="635.5" fill="url(#gCr)" stroke="#111" stroke-width="3.2" /><rect x="3098.65" y="2195.2" width="17.5" height="635.5" fill="url(#gClO)" stroke="#111" stroke-width="3.2" /><rect x="3124.55" y="2195.2" width="17.5" height="635.5" fill="url(#gHA)" stroke="#111" stroke-width="3.2" /><rect x="3186.55" y="2195.2" width="17.5" height="635.5" fill="url(#gCl)" stroke="#111" stroke-width="3.2" /><rect x="3212.45" y="2195.2" width="17.5" height="635.5" fill="url(#gSO)" stroke="#111" stroke-width="3.2" /><rect x="3238.35" y="2195.2" width="17.5" height="635.5" fill="url(#gNO)" stroke="#111" stroke-width="3.2" /><rect x="3264.25" y="2195.2" width="17.5" height="635.5" fill="url(#gHC)" stroke="#111" stroke-width="3.2" /><rect x="3290.15" y="2195.2" width="17.5" height="635.5" fill="url(#gCr)" stroke="#111" stroke-width="3.2" /><rect x="3316.05" y="2195.2" width="17.5" height="635.5" fill="url(#gClO)" stroke="#111" stroke-width="3.2" /><rect x="3341.95" y="2330.84" width="17.5" height="499.86" fill="url(#gHA)" stroke="#111" stroke-width="3.2" /><line x1="3350.7" y1="2310.43" x2="3350.7" y2="2348.64" stroke="#111" stroke-width="3.2" /><line x1="3343.2" y1="2310.43" x2="3358.2" y2="2310.43" stroke="#111" stroke-width="3.2" /><line x1="3343.2" y1="2348.64" x2="3358.2" y2="2348.64" stroke="#111" stroke-width="3.2" /></g>
<line x1="2524" y1="2214.91" x2="2727" y2="2214.91" stroke="#B35C70" stroke-width="4.6" stroke-dasharray="17 8"/>
<line x1="2731.6" y1="2198.99" x2="2951" y2="2198.99" stroke="#B35C70" stroke-width="4.6" stroke-dasharray="17 8"/>
<line x1="2953.6" y1="2193.4" x2="3375" y2="2193.4" stroke="#B35C70" stroke-width="4.6" stroke-dasharray="17 8"/>
<line x1="2994" y1="2157.6" x2="3056" y2="2157.6" stroke="#B35C70" stroke-width="4.6" stroke-dasharray="13 7"/>
<text x="3067.8" y="2172" font-size="49" text-anchor="start" fill="#000" >w/o interfering</text>
<rect x="2512.4" y="2130.5" width="870.9" height="700.2" fill="none" stroke="#000" stroke-width="4" />
<line x1="2498.9" y1="2830.7" x2="2512.4" y2="2830.7" stroke="#000" stroke-width="3.6" />
<text x="2489.6" y="2847.1" font-size="58.5" text-anchor="end" fill="#000" >0</text>
<line x1="2505.4" y1="2767.02" x2="2512.4" y2="2767.02" stroke="#000" stroke-width="3.6" />
<line x1="2498.9" y1="2703.34" x2="2512.4" y2="2703.34" stroke="#000" stroke-width="3.6" />
<text x="2489.6" y="2719.74" font-size="58.5" text-anchor="end" fill="#000" >20</text>
<line x1="2505.4" y1="2639.66" x2="2512.4" y2="2639.66" stroke="#000" stroke-width="3.6" />
<line x1="2498.9" y1="2575.98" x2="2512.4" y2="2575.98" stroke="#000" stroke-width="3.6" />
<text x="2489.6" y="2592.38" font-size="58.5" text-anchor="end" fill="#000" >40</text>
<line x1="2505.4" y1="2512.3" x2="2512.4" y2="2512.3" stroke="#000" stroke-width="3.6" />
<line x1="2498.9" y1="2448.62" x2="2512.4" y2="2448.62" stroke="#000" stroke-width="3.6" />
<text x="2489.6" y="2465.02" font-size="58.5" text-anchor="end" fill="#000" >60</text>
<line x1="2505.4" y1="2384.94" x2="2512.4" y2="2384.94" stroke="#000" stroke-width="3.6" />
<line x1="2498.9" y1="2321.26" x2="2512.4" y2="2321.26" stroke="#000" stroke-width="3.6" />
<text x="2489.6" y="2337.66" font-size="58.5" text-anchor="end" fill="#000" >80</text>
<line x1="2505.4" y1="2257.58" x2="2512.4" y2="2257.58" stroke="#000" stroke-width="3.6" />
<line x1="2498.9" y1="2193.9" x2="2512.4" y2="2193.9" stroke="#000" stroke-width="3.6" />
<text x="2489.6" y="2210.3" font-size="58.5" text-anchor="end" fill="#000" >100</text>
<line x1="2620.8" y1="2830.7" x2="2620.8" y2="2844.2" stroke="#000" stroke-width="3.6" />
<text x="2620.8" y="2898.7" font-size="60" text-anchor="middle" fill="#000" >PFOA</text>
<line x1="2838.2" y1="2830.7" x2="2838.2" y2="2844.2" stroke="#000" stroke-width="3.6" />
<text x="2838.2" y="2898.7" font-size="60" text-anchor="middle" fill="#000" >PFOS</text>
<line x1="3055.6" y1="2830.7" x2="3055.6" y2="2844.2" stroke="#000" stroke-width="3.6" />
<text x="3055.6" y="2898.7" font-size="60" text-anchor="middle" fill="#000" >F-53B</text>
<line x1="3273" y1="2830.7" x2="3273" y2="2844.2" stroke="#000" stroke-width="3.6" />
<text x="3273" y="2898.7" font-size="60" text-anchor="middle" fill="#000" >6:2 FTS</text>
<text x="2379.7" y="2484.5" font-size="63.1" text-anchor="middle" fill="#000" transform="rotate(-90 2379.7 2484.5)" >PFAS removal (%)</text>
</svg>
</body></html>
